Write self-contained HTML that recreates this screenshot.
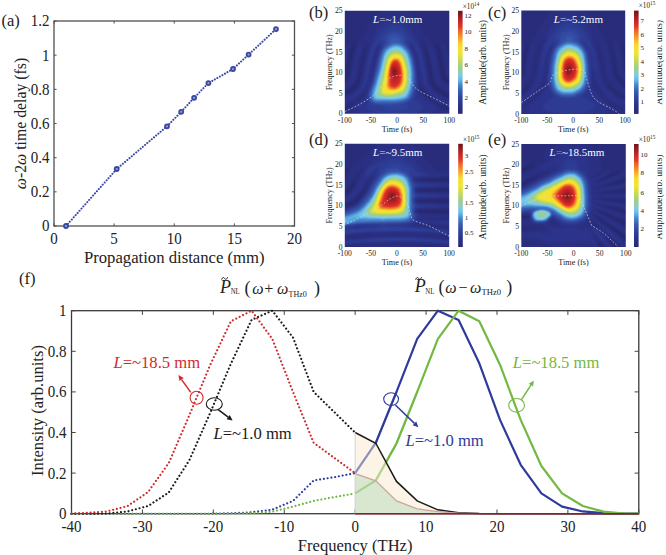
<!DOCTYPE html><html><head><meta charset="utf-8"><title>Figure</title><style>html,body{margin:0;padding:0;background:#fff;overflow:hidden;}svg{display:block;}text{font-family:"Liberation Serif", serif;}</style></head><body>
<svg width="666" height="555" viewBox="0 0 666 555">
<defs>
<linearGradient id="jetv" x1="0" y1="0" x2="0" y2="1"><stop offset="0.0000" stop-color="rgb(106,22,26)"/><stop offset="0.0312" stop-color="rgb(135,26,30)"/><stop offset="0.0625" stop-color="rgb(165,31,33)"/><stop offset="0.0938" stop-color="rgb(193,37,38)"/><stop offset="0.1250" stop-color="rgb(214,44,40)"/><stop offset="0.1562" stop-color="rgb(226,57,40)"/><stop offset="0.1875" stop-color="rgb(237,93,40)"/><stop offset="0.2188" stop-color="rgb(241,120,41)"/><stop offset="0.2500" stop-color="rgb(245,147,42)"/><stop offset="0.2812" stop-color="rgb(247,176,42)"/><stop offset="0.3125" stop-color="rgb(248,205,42)"/><stop offset="0.3438" stop-color="rgb(247,223,43)"/><stop offset="0.3750" stop-color="rgb(245,225,45)"/><stop offset="0.4062" stop-color="rgb(242,228,48)"/><stop offset="0.4375" stop-color="rgb(224,225,65)"/><stop offset="0.4688" stop-color="rgb(205,220,83)"/><stop offset="0.5000" stop-color="rgb(186,214,102)"/><stop offset="0.5312" stop-color="rgb(170,209,124)"/><stop offset="0.5625" stop-color="rgb(156,205,146)"/><stop offset="0.5938" stop-color="rgb(145,204,183)"/><stop offset="0.6250" stop-color="rgb(130,203,219)"/><stop offset="0.6562" stop-color="rgb(109,194,237)"/><stop offset="0.6875" stop-color="rgb(90,170,225)"/><stop offset="0.7188" stop-color="rgb(75,135,205)"/><stop offset="0.7500" stop-color="rgb(66,113,190)"/><stop offset="0.7812" stop-color="rgb(58,92,176)"/><stop offset="0.8125" stop-color="rgb(53,80,167)"/><stop offset="0.8438" stop-color="rgb(48,68,158)"/><stop offset="0.8750" stop-color="rgb(46,60,149)"/><stop offset="0.9062" stop-color="rgb(44,53,140)"/><stop offset="0.9375" stop-color="rgb(43,48,132)"/><stop offset="0.9688" stop-color="rgb(41,45,123)"/><stop offset="1.0000" stop-color="rgb(38,40,112)"/></linearGradient>
<filter id="cm" x="-5%" y="-5%" width="110%" height="110%" color-interpolation-filters="sRGB"><feGaussianBlur stdDeviation="0.9"/><feComponentTransfer><feFuncR type="table" tableValues="0.149 0.155 0.161 0.165 0.167 0.168 0.172 0.175 0.179 0.182 0.188 0.198 0.207 0.217 0.227 0.242 0.259 0.275 0.293 0.323 0.354 0.389 0.427 0.467 0.509 0.550 0.568 0.587 0.610 0.638 0.667 0.696 0.729 0.766 0.803 0.840 0.879 0.919 0.950 0.955 0.959 0.964 0.969 0.973 0.973 0.973 0.970 0.965 0.960 0.954 0.947 0.940 0.930 0.908 0.887 0.864 0.839 0.813 0.758 0.703 0.647 0.588 0.530 0.473 0.416"/><feFuncG type="table" tableValues="0.157 0.166 0.175 0.183 0.189 0.195 0.208 0.222 0.236 0.250 0.268 0.291 0.313 0.336 0.359 0.400 0.443 0.486 0.531 0.598 0.666 0.720 0.762 0.793 0.797 0.800 0.800 0.800 0.804 0.812 0.820 0.828 0.839 0.851 0.864 0.876 0.883 0.889 0.893 0.888 0.884 0.879 0.875 0.864 0.805 0.747 0.690 0.634 0.577 0.523 0.471 0.420 0.365 0.295 0.224 0.187 0.172 0.156 0.144 0.132 0.121 0.112 0.103 0.094 0.086"/><feFuncB type="table" tableValues="0.439 0.461 0.482 0.501 0.516 0.531 0.549 0.566 0.584 0.601 0.619 0.636 0.654 0.671 0.689 0.717 0.745 0.774 0.803 0.843 0.883 0.911 0.929 0.924 0.861 0.797 0.717 0.637 0.575 0.530 0.485 0.440 0.400 0.363 0.326 0.290 0.253 0.216 0.187 0.183 0.178 0.173 0.169 0.165 0.165 0.165 0.165 0.165 0.165 0.164 0.161 0.159 0.157 0.157 0.157 0.157 0.157 0.156 0.147 0.138 0.130 0.124 0.118 0.110 0.102"/></feComponentTransfer></filter>
<clipPath id="clipb"><rect x="344.8" y="10.8" width="104.50" height="103.00"/></clipPath>
<clipPath id="clipc"><rect x="521.3" y="10.6" width="103.90" height="103.30"/></clipPath>
<clipPath id="clipd"><rect x="344.8" y="143.8" width="104.40" height="103.20"/></clipPath>
<clipPath id="clipe"><rect x="521.3" y="144.0" width="104.50" height="103.00"/></clipPath>
</defs>
<rect width="666" height="555" fill="#fff"/>
<g fill="#222">
<rect x="54.0" y="21.0" width="240.5" height="205.0" fill="none" stroke="#505050" stroke-width="1.3"/>
<line x1="54.00" y1="226.0" x2="54.00" y2="223.4" stroke="#505050" stroke-width="1"/>
<line x1="54.00" y1="21.0" x2="54.00" y2="23.6" stroke="#505050" stroke-width="1"/>
<text transform="translate(54.00,244.40) scale(1,1.05)" text-anchor="middle" font-size="15">0</text>
<line x1="114.12" y1="226.0" x2="114.12" y2="223.4" stroke="#505050" stroke-width="1"/>
<line x1="114.12" y1="21.0" x2="114.12" y2="23.6" stroke="#505050" stroke-width="1"/>
<text transform="translate(114.12,244.40) scale(1,1.05)" text-anchor="middle" font-size="15">5</text>
<line x1="174.25" y1="226.0" x2="174.25" y2="223.4" stroke="#505050" stroke-width="1"/>
<line x1="174.25" y1="21.0" x2="174.25" y2="23.6" stroke="#505050" stroke-width="1"/>
<text transform="translate(174.25,244.40) scale(1,1.05)" text-anchor="middle" font-size="15">10</text>
<line x1="234.38" y1="226.0" x2="234.38" y2="223.4" stroke="#505050" stroke-width="1"/>
<line x1="234.38" y1="21.0" x2="234.38" y2="23.6" stroke="#505050" stroke-width="1"/>
<text transform="translate(234.38,244.40) scale(1,1.05)" text-anchor="middle" font-size="15">15</text>
<line x1="294.50" y1="226.0" x2="294.50" y2="223.4" stroke="#505050" stroke-width="1"/>
<line x1="294.50" y1="21.0" x2="294.50" y2="23.6" stroke="#505050" stroke-width="1"/>
<text transform="translate(294.50,244.40) scale(1,1.05)" text-anchor="middle" font-size="15">20</text>
<line x1="54.0" y1="226.00" x2="56.6" y2="226.00" stroke="#505050" stroke-width="1"/>
<line x1="294.5" y1="226.00" x2="291.9" y2="226.00" stroke="#505050" stroke-width="1"/>
<text transform="translate(49.50,231.40) scale(1,1.05)" text-anchor="end" font-size="15">0</text>
<line x1="54.0" y1="191.83" x2="56.6" y2="191.83" stroke="#505050" stroke-width="1"/>
<line x1="294.5" y1="191.83" x2="291.9" y2="191.83" stroke="#505050" stroke-width="1"/>
<text transform="translate(49.50,197.23) scale(1,1.05)" text-anchor="end" font-size="15">0.2</text>
<line x1="54.0" y1="157.67" x2="56.6" y2="157.67" stroke="#505050" stroke-width="1"/>
<line x1="294.5" y1="157.67" x2="291.9" y2="157.67" stroke="#505050" stroke-width="1"/>
<text transform="translate(49.50,163.07) scale(1,1.05)" text-anchor="end" font-size="15">0.4</text>
<line x1="54.0" y1="123.50" x2="56.6" y2="123.50" stroke="#505050" stroke-width="1"/>
<line x1="294.5" y1="123.50" x2="291.9" y2="123.50" stroke="#505050" stroke-width="1"/>
<text transform="translate(49.50,128.90) scale(1,1.05)" text-anchor="end" font-size="15">0.6</text>
<line x1="54.0" y1="89.33" x2="56.6" y2="89.33" stroke="#505050" stroke-width="1"/>
<line x1="294.5" y1="89.33" x2="291.9" y2="89.33" stroke="#505050" stroke-width="1"/>
<text transform="translate(49.50,94.73) scale(1,1.05)" text-anchor="end" font-size="15">0.8</text>
<line x1="54.0" y1="55.17" x2="56.6" y2="55.17" stroke="#505050" stroke-width="1"/>
<line x1="294.5" y1="55.17" x2="291.9" y2="55.17" stroke="#505050" stroke-width="1"/>
<text transform="translate(49.50,60.57) scale(1,1.05)" text-anchor="end" font-size="15">1</text>
<line x1="54.0" y1="21.00" x2="56.6" y2="21.00" stroke="#505050" stroke-width="1"/>
<line x1="294.5" y1="21.00" x2="291.9" y2="21.00" stroke="#505050" stroke-width="1"/>
<text transform="translate(49.50,26.40) scale(1,1.05)" text-anchor="end" font-size="15">1.2</text>
<path d="M66,226 L116.7,169 L167,126.3 L181.2,111.8 L194.1,97.8 L208.4,83.1 L233,69 L248.6,54.6 L276,29.1" fill="none" stroke="#3a47a5" stroke-width="2.05" stroke-dasharray="0.01 2.9" stroke-linecap="round"/>
<circle cx="66" cy="226" r="2.0" fill="#9aa0d4" stroke="#3a47a5" stroke-width="1.8"/>
<circle cx="116.7" cy="169" r="2.0" fill="#9aa0d4" stroke="#3a47a5" stroke-width="1.8"/>
<circle cx="167" cy="126.3" r="2.0" fill="#9aa0d4" stroke="#3a47a5" stroke-width="1.8"/>
<circle cx="181.2" cy="111.8" r="2.0" fill="#9aa0d4" stroke="#3a47a5" stroke-width="1.8"/>
<circle cx="194.1" cy="97.8" r="2.0" fill="#9aa0d4" stroke="#3a47a5" stroke-width="1.8"/>
<circle cx="208.4" cy="83.1" r="2.0" fill="#9aa0d4" stroke="#3a47a5" stroke-width="1.8"/>
<circle cx="233" cy="69" r="2.0" fill="#9aa0d4" stroke="#3a47a5" stroke-width="1.8"/>
<circle cx="248.6" cy="54.6" r="2.0" fill="#9aa0d4" stroke="#3a47a5" stroke-width="1.8"/>
<circle cx="276" cy="29.1" r="2.0" fill="#9aa0d4" stroke="#3a47a5" stroke-width="1.8"/>
<text x="174.25" y="263" text-anchor="middle" font-size="16.7">Propagation distance (mm)</text>
<text transform="translate(25.6,123.5) rotate(-90)" text-anchor="middle" font-size="15.8"><tspan font-style="italic">ω</tspan>-2<tspan font-style="italic">ω</tspan> time delay (fs)</text>
<text x="1.5" y="25.5" font-size="16.5">(a)</text>
<rect x="71.5" y="310.7" width="567.30" height="203.00" fill="none" stroke="#3a3a3a" stroke-width="1.3"/>
<line x1="71.50" y1="513.7" x2="71.50" y2="509.50000000000006" stroke="#444" stroke-width="1"/>
<line x1="71.50" y1="310.7" x2="71.50" y2="314.9" stroke="#444" stroke-width="1"/>
<text transform="translate(71.50,532.30) scale(1,1.05)" text-anchor="middle" font-size="15">-40</text>
<line x1="142.41" y1="513.7" x2="142.41" y2="509.50000000000006" stroke="#444" stroke-width="1"/>
<line x1="142.41" y1="310.7" x2="142.41" y2="314.9" stroke="#444" stroke-width="1"/>
<text transform="translate(142.41,532.30) scale(1,1.05)" text-anchor="middle" font-size="15">-30</text>
<line x1="213.32" y1="513.7" x2="213.32" y2="509.50000000000006" stroke="#444" stroke-width="1"/>
<line x1="213.32" y1="310.7" x2="213.32" y2="314.9" stroke="#444" stroke-width="1"/>
<text transform="translate(213.32,532.30) scale(1,1.05)" text-anchor="middle" font-size="15">-20</text>
<line x1="284.24" y1="513.7" x2="284.24" y2="509.50000000000006" stroke="#444" stroke-width="1"/>
<line x1="284.24" y1="310.7" x2="284.24" y2="314.9" stroke="#444" stroke-width="1"/>
<text transform="translate(284.24,532.30) scale(1,1.05)" text-anchor="middle" font-size="15">-10</text>
<line x1="355.15" y1="513.7" x2="355.15" y2="509.50000000000006" stroke="#444" stroke-width="1"/>
<line x1="355.15" y1="310.7" x2="355.15" y2="314.9" stroke="#444" stroke-width="1"/>
<text transform="translate(355.15,532.30) scale(1,1.05)" text-anchor="middle" font-size="15">0</text>
<line x1="426.06" y1="513.7" x2="426.06" y2="509.50000000000006" stroke="#444" stroke-width="1"/>
<line x1="426.06" y1="310.7" x2="426.06" y2="314.9" stroke="#444" stroke-width="1"/>
<text transform="translate(426.06,532.30) scale(1,1.05)" text-anchor="middle" font-size="15">10</text>
<line x1="496.97" y1="513.7" x2="496.97" y2="509.50000000000006" stroke="#444" stroke-width="1"/>
<line x1="496.97" y1="310.7" x2="496.97" y2="314.9" stroke="#444" stroke-width="1"/>
<text transform="translate(496.97,532.30) scale(1,1.05)" text-anchor="middle" font-size="15">20</text>
<line x1="567.89" y1="513.7" x2="567.89" y2="509.50000000000006" stroke="#444" stroke-width="1"/>
<line x1="567.89" y1="310.7" x2="567.89" y2="314.9" stroke="#444" stroke-width="1"/>
<text transform="translate(567.89,532.30) scale(1,1.05)" text-anchor="middle" font-size="15">30</text>
<line x1="638.80" y1="513.7" x2="638.80" y2="509.50000000000006" stroke="#444" stroke-width="1"/>
<line x1="638.80" y1="310.7" x2="638.80" y2="314.9" stroke="#444" stroke-width="1"/>
<text transform="translate(638.80,532.30) scale(1,1.05)" text-anchor="middle" font-size="15">40</text>
<line x1="71.5" y1="513.70" x2="75.7" y2="513.70" stroke="#444" stroke-width="1"/>
<line x1="638.8" y1="513.70" x2="634.5999999999999" y2="513.70" stroke="#444" stroke-width="1"/>
<text transform="translate(66.50,519.10) scale(1,1.05)" text-anchor="end" font-size="15">0</text>
<line x1="71.5" y1="473.10" x2="75.7" y2="473.10" stroke="#444" stroke-width="1"/>
<line x1="638.8" y1="473.10" x2="634.5999999999999" y2="473.10" stroke="#444" stroke-width="1"/>
<text transform="translate(66.50,478.50) scale(1,1.05)" text-anchor="end" font-size="15">0.2</text>
<line x1="71.5" y1="432.50" x2="75.7" y2="432.50" stroke="#444" stroke-width="1"/>
<line x1="638.8" y1="432.50" x2="634.5999999999999" y2="432.50" stroke="#444" stroke-width="1"/>
<text transform="translate(66.50,437.90) scale(1,1.05)" text-anchor="end" font-size="15">0.4</text>
<line x1="71.5" y1="391.90" x2="75.7" y2="391.90" stroke="#444" stroke-width="1"/>
<line x1="638.8" y1="391.90" x2="634.5999999999999" y2="391.90" stroke="#444" stroke-width="1"/>
<text transform="translate(66.50,397.30) scale(1,1.05)" text-anchor="end" font-size="15">0.6</text>
<line x1="71.5" y1="351.30" x2="75.7" y2="351.30" stroke="#444" stroke-width="1"/>
<line x1="638.8" y1="351.30" x2="634.5999999999999" y2="351.30" stroke="#444" stroke-width="1"/>
<text transform="translate(66.50,356.70) scale(1,1.05)" text-anchor="end" font-size="15">0.8</text>
<line x1="71.5" y1="310.70" x2="75.7" y2="310.70" stroke="#444" stroke-width="1"/>
<line x1="638.8" y1="310.70" x2="634.5999999999999" y2="310.70" stroke="#444" stroke-width="1"/>
<text transform="translate(66.50,316.10) scale(1,1.05)" text-anchor="end" font-size="15">1</text>
<path d="M355.10,473.10 L375.80,442.85 L396.50,391.90 L417.20,338.92 L437.90,310.70 L458.60,320.04 L479.30,363.28 L500.00,419.91 L520.70,464.78 L541.40,493.40 L562.10,506.60 L582.80,511.47 L603.50,513.09 L624.20,513.70 L638.80,513.70" fill="none" stroke="#2e3a9c" stroke-width="2.2" stroke-linejoin="round"/>
<path d="M355.10,493.40 L375.80,480.41 L396.50,443.46 L417.20,391.90 L437.90,338.92 L458.60,310.70 L479.30,321.26 L500.00,364.70 L520.70,419.91 L541.40,466.00 L562.10,493.40 L582.80,505.99 L603.50,511.67 L624.20,513.70 L638.80,513.70" fill="none" stroke="#73b843" stroke-width="2.2" stroke-linejoin="round"/>
<path d="M355.10,432.50 L375.80,443.26 L396.50,481.42 L417.20,500.91 L437.90,509.84 L458.60,512.69 L479.30,513.50 L500.00,513.70 L520.70,513.70 L541.40,513.70 L562.10,513.70 L582.80,513.70 L603.50,513.70 L624.20,513.70 L638.80,513.70 L638.8,513.7 L355.1,513.7 Z" fill="#fcf2e2" fill-opacity="0.85" stroke="none"/>
<path d="M355.10,473.71 L375.80,480.81 L396.50,500.91 L417.20,508.83 L437.90,511.67 L458.60,513.09 L479.30,513.70 L500.00,513.70 L520.70,513.70 L541.40,513.70 L562.10,513.70 L582.80,513.70 L603.50,513.70 L624.20,513.70 L638.80,513.70 L638.8,513.7 L355.1,513.7 Z" fill="#d2e4cc" fill-opacity="0.85" stroke="none"/>
<path d="M355.10,473.10 L375.80,442.85 L396.50,391.90" fill="none" stroke="#2e3a9c" stroke-width="2.2" stroke-opacity="0.45"/>
<path d="M355.10,493.40 L375.80,480.41 L396.50,443.46 L417.20,391.90" fill="none" stroke="#73b843" stroke-width="2.2" stroke-opacity="0.45"/>
<path d="M355.10,432.50 L375.80,443.26 L396.50,481.42 L417.20,500.91 L437.90,509.84 L458.60,512.69 L479.30,513.50 L500.00,513.70 L520.70,513.70 L541.40,513.70 L562.10,513.70 L582.80,513.70 L603.50,513.70 L624.20,513.70 L638.80,513.70" fill="none" stroke="#1a1a1a" stroke-width="1.5"/>
<path d="M355.10,473.71 L375.80,480.81 L396.50,500.91 L417.20,508.83 L437.90,511.67 L458.60,513.09 L479.30,513.70 L500.00,513.70 L520.70,513.70 L541.40,513.70 L562.10,513.70 L582.80,513.70 L603.50,513.70 L624.20,513.70 L638.80,513.70" fill="none" stroke="#cfa49e" stroke-width="1.3"/>
<line x1="355.1" y1="432.50" x2="355.1" y2="513.7" stroke="#ccc" stroke-width="0.8"/>
<line x1="355.1" y1="513.7" x2="638.8" y2="513.7" stroke="#8a2030" stroke-width="1.4"/>
<path d="M71.50,513.70 L86.00,513.70 L106.70,513.70 L127.40,513.70 L148.10,513.70 L168.80,513.70 L189.50,513.70 L210.20,513.70 L230.90,513.29 L251.60,512.28 L272.30,509.64 L293.00,500.91 L313.70,480.41 L334.40,477.16 L355.10,473.10" fill="none" stroke="#2e3a9c" stroke-dasharray="0.01 3.8" stroke-width="2.15" stroke-linecap="round"/>
<path d="M71.50,513.70 L86.00,513.70 L106.70,513.70 L127.40,513.70 L148.10,513.70 L168.80,513.70 L189.50,513.70 L210.20,513.70 L230.90,513.70 L251.60,513.29 L272.30,511.67 L293.00,506.60 L313.70,500.91 L334.40,497.05 L355.10,493.40" fill="none" stroke="#73b843" stroke-dasharray="0.01 3.8" stroke-width="2.15" stroke-linecap="round"/>
<path d="M71.50,513.70 L86.00,513.70 L106.70,513.50 L127.40,511.47 L148.10,505.99 L168.80,492.39 L189.50,459.91 L210.20,412.81 L230.90,363.68 L251.60,319.84 L272.30,310.70 L293.00,337.50 L313.70,391.90 L334.40,412.20 L355.10,432.50" fill="none" stroke="#1a1a1a" stroke-dasharray="0.01 3.8" stroke-width="2.15" stroke-linecap="round"/>
<path d="M71.50,513.46 L86.00,512.89 L106.70,511.47 L127.40,506.19 L148.10,491.98 L168.80,462.95 L189.50,414.84 L210.20,364.90 L230.90,321.26 L251.60,310.70 L272.30,338.92 L293.00,391.90 L313.70,442.85 L334.40,457.88 L355.10,473.10" fill="none" stroke="#d12a2c" stroke-dasharray="0.01 3.8" stroke-width="2.15" stroke-linecap="round"/>
<ellipse cx="196.6" cy="397.8" rx="6.5" ry="6.5" fill="none" stroke="#d12a2c" stroke-width="1.1"/>
<line x1="190.8" y1="392.4" x2="181.60" y2="379.57" stroke="#d12a2c" stroke-width="1.5"/><path d="M178.4,375.1 L183.72,378.06 L179.49,381.08 Z" fill="#d12a2c"/>
<ellipse cx="214.3" cy="404" rx="8" ry="6.2" fill="none" stroke="#1a1a1a" stroke-width="1.1"/>
<line x1="218.2" y1="409.7" x2="228.20" y2="417.20" stroke="#1a1a1a" stroke-width="1.5"/><path d="M232.6,420.5 L226.64,419.28 L229.76,415.12 Z" fill="#1a1a1a"/>
<ellipse cx="391.1" cy="399.1" rx="7.4" ry="6.4" fill="none" stroke="#2e3a9c" stroke-width="1.1"/>
<line x1="395.4" y1="405" x2="414.44" y2="423.38" stroke="#2e3a9c" stroke-width="1.5"/><path d="M418.4,427.2 L412.64,425.25 L416.25,421.51 Z" fill="#2e3a9c"/>
<ellipse cx="516.6" cy="405.3" rx="7.9" ry="6.8" fill="none" stroke="#73b843" stroke-width="1.1"/>
<line x1="521.5" y1="399.7" x2="530.92" y2="385.12" stroke="#73b843" stroke-width="1.5"/><path d="M533.9,380.5 L533.10,386.53 L528.73,383.71 Z" fill="#73b843"/>
<text x="113.5" y="368" font-size="16.6" fill="#d12a2c"><tspan font-style="italic">L</tspan>=~18.5 mm</text>
<text x="213.5" y="438.8" font-size="16.6" fill="#1a1a1a"><tspan font-style="italic">L</tspan>=~1.0 mm</text>
<text x="405.5" y="446" font-size="16.6" fill="#2e3a9c"><tspan font-style="italic">L</tspan>=~1.0 mm</text>
<text x="512.8" y="368.2" font-size="16.6" fill="#73b843"><tspan font-style="italic">L</tspan>=~18.5 mm</text>
<text x="220" y="293.1" font-size="18" font-style="italic">P</text>
<path d="M221.60,279.60 C222.80,276.60 224.00,277.32 224.60,278.40 C225.20,279.48 226.40,280.20 227.60,277.20" fill="none" stroke="#222" stroke-width="1"/>
<text x="230.7" y="294.3" font-size="7.6" textLength="9.1" lengthAdjust="spacingAndGlyphs">NL</text>
<text x="244.5" y="294.4" font-size="18">(</text>
<text x="252.2" y="293.5" font-size="16" font-style="italic">ω</text>
<text x="264.3" y="293.5" font-size="16">+</text>
<text x="276.9" y="293.5" font-size="16" font-style="italic">ω</text>
<text x="288.5" y="296.8" font-size="8">THz0</text>
<text x="314" y="294.4" font-size="18">)</text>
<text x="414.8" y="292.1" font-size="18" font-style="italic">P</text>
<path d="M415.60,279.60 C416.80,276.60 418.00,277.32 418.60,278.40 C419.20,279.48 420.40,280.20 421.60,277.20" fill="none" stroke="#222" stroke-width="1"/>
<text x="425.3" y="293.5" font-size="7.6" textLength="9.1" lengthAdjust="spacingAndGlyphs">NL</text>
<text x="438.4" y="292.8" font-size="18">(</text>
<text x="445.2" y="292.5" font-size="16" font-style="italic">ω</text>
<text x="458.6" y="292.5" font-size="16">−</text>
<text x="469.9" y="292.5" font-size="16" font-style="italic">ω</text>
<text x="481.5" y="295.1" font-size="8.6">THz0</text>
<text x="506.2" y="292.8" font-size="18">)</text>
<text x="355.15" y="551.4" text-anchor="middle" font-size="16.6">Frequency (THz)</text>
<text transform="translate(43.2,410.5) rotate(-90)" text-anchor="middle" font-size="16.6">Intensity (arb.units)</text>
<text x="19" y="283.5" font-size="16.5">(f)</text>
<g clip-path="url(#clipb)"><g filter="url(#cm)"><rect x="339.8" y="5.800000000000001" width="114.5" height="113.0" fill="rgb(0,0,0)"/>
<path fill-rule="evenodd" fill="rgb(8,8,8)" d="M452.3 116.8 341.8 116.8 341.8 110.0 349.3 106.8 352.3 104.3 341.8 107.4 341.8 97.7 344.3 96.7 354.3 89.8 358.3 84.3 360.3 78.8 363.6 59.3 366.3 48.8 365.8 47.8 365.3 48.3 363.3 53.8 358.1 77.8 355.5 83.3 352.3 87.0 341.8 93.6 341.8 83.7 346.5 80.3 348.8 75.6 352.2 57.3 355.0 45.8 354.8 44.3 354.3 43.9 353.3 44.3 350.8 48.8 348.9 55.8 345.1 74.8 343.8 77.3 341.8 78.5 341.8 49.3 342.6 44.8 341.8 42.7 341.8 7.8 452.3 7.8 452.3 46.4 449.8 42.7 448.3 42.7 447.8 44.3 452.3 66.7 452.3 81.4 445.5 76.8 440.2 49.8 438.7 45.8 437.3 43.8 435.8 43.5 435.3 44.8 440.1 67.8 441.7 78.3 443.3 80.6 445.4 82.3 452.3 86.6 452.3 94.9 447.3 93.3 437.3 86.9 433.5 82.3 432.1 77.3 431.3 70.8 427.8 54.2 425.3 47.3 424.3 46.4 423.8 46.6 423.6 47.8 427.2 62.8 429.3 77.6 430.8 83.8 434.6 89.3 438.5 92.3 445.3 96.7 452.3 99.2 452.3 108.3 440.8 105.6 436.7 103.8 440.3 106.8 445.6 109.3 452.3 111.4 452.3 116.8ZM426.1 95.8 425.7 94.3 420.3 85.8 420.3 88.7 423.8 93.7 426.1 95.8Z"/>
<path fill-rule="evenodd" fill="rgb(15,15,15)" d="M445.8 116.8 343.8 116.8 341.8 115.8 341.8 111.4 350.3 107.5 361.9 99.3 364.5 96.8 366.3 92.8 366.4 90.8 365.8 90.4 364.3 91.2 360.0 96.3 353.3 101.0 348.3 104.1 341.8 106.1 341.8 99.1 344.9 97.8 355.8 90.3 359.4 85.3 361.8 79.2 365.3 59.3 369.2 44.3 369.1 42.3 367.8 41.4 365.3 43.0 363.2 47.8 360.2 57.8 356.5 77.3 354.2 82.3 351.3 85.9 341.8 91.9 341.8 85.7 347.3 81.7 348.8 79.8 350.4 75.8 354.0 56.3 358.3 43.0 360.3 39.7 363.8 36.3 368.0 27.3 372.4 20.3 376.7 15.3 381.3 11.7 387.3 9.0 393.8 8.0 400.3 8.9 406.3 11.5 411.3 15.3 416.1 20.8 420.5 27.8 424.9 36.8 429.3 39.6 431.3 41.7 433.4 46.3 435.9 54.8 440.4 79.3 442.3 81.8 444.8 83.8 452.3 88.3 452.3 93.4 447.8 91.9 438.3 85.8 435.1 81.8 433.7 76.8 432.9 70.3 430.1 56.3 427.8 48.2 425.3 42.0 423.8 40.5 422.3 40.2 420.9 41.3 420.7 43.3 424.6 57.8 429.2 83.8 433.7 90.3 437.7 93.3 444.8 97.9 452.3 100.5 452.3 107.1 441.3 104.1 429.7 96.3 422.9 87.3 420.8 80.3 419.7 78.8 419.3 76.3 418.6 81.3 419.3 88.8 422.8 94.3 427.7 99.3 440.3 108.1 451.8 113.3 445.8 116.8ZM341.8 76.4 341.8 57.9 342.3 54.8 344.1 48.3 345.8 44.4 347.3 42.5 348.8 42.0 349.7 43.3 349.5 46.3 347.1 55.3 343.3 74.3 341.8 76.4ZM452.3 79.2 447.1 75.8 445.9 67.3 441.3 46.3 441.1 43.8 441.8 42.5 442.8 42.5 444.3 43.9 446.7 49.3 450.3 66.3 451.2 73.3 452.3 74.3 452.3 79.2ZM376.8 52.8 377.8 50.7 376.6 52.3 376.8 52.8ZM373.4 67.3 375.1 58.8 376.4 55.3 375.8 54.4 373.5 60.8 372.3 66.8 372.8 67.7 373.4 67.3Z"/>
<path fill-rule="evenodd" fill="rgb(23,23,23)" d="M421.8 116.8 367.4 116.8 358.4 113.3 355.6 111.3 353.9 109.3 353.4 107.3 357.8 103.3 364.8 98.2 367.4 92.3 372.3 77.5 376.8 57.8 380.3 47.8 380.3 46.5 379.8 46.2 378.3 46.8 376.8 48.3 373.3 56.8 368.9 75.8 369.1 78.8 368.4 81.8 365.3 87.8 359.2 95.3 347.8 102.9 341.8 104.8 341.8 100.4 345.8 98.7 356.3 91.5 360.5 85.8 363.0 79.3 366.6 58.8 374.2 33.8 377.2 28.3 380.8 23.6 384.8 20.2 389.3 18.1 394.8 17.4 400.3 18.6 405.8 22.1 410.5 27.3 414.5 33.8 421.2 49.8 423.5 58.3 426.0 71.3 426.6 77.8 428.4 84.8 432.6 90.8 436.8 94.1 444.3 99.0 452.3 101.9 452.3 105.9 441.8 102.9 430.5 95.3 426.8 90.9 424.0 86.8 423.1 84.3 421.5 78.3 420.8 71.9 419.4 67.8 418.5 66.8 418.7 64.3 417.6 61.3 417.6 58.8 415.1 50.3 412.8 46.5 411.3 45.4 410.2 45.3 409.8 46.0 413.0 51.8 415.1 57.3 416.9 66.3 416.7 68.8 418.8 92.3 426.8 100.1 436.1 107.3 435.3 109.8 432.7 112.3 427.9 114.8 421.8 116.8ZM343.8 87.9 343.0 87.8 348.4 83.3 350.5 80.3 352.0 76.3 355.3 58.1 356.8 52.5 358.8 47.1 360.8 45.2 361.4 46.3 360.9 49.8 358.5 57.8 354.9 76.8 352.4 81.8 350.2 84.3 343.8 87.9ZM444.8 86.9 439.8 84.4 436.6 80.8 435.5 76.8 431.7 55.8 429.9 49.3 429.7 46.8 430.3 46.1 431.9 47.8 434.3 55.4 438.6 79.8 440.8 83.2 444.8 86.9Z"/>
<path fill-rule="evenodd" fill="rgb(31,31,31)" d="M399.8 115.8 388.3 115.7 377.8 114.1 370.1 111.3 368.1 109.8 366.8 107.8 366.8 105.8 368.4 103.3 366.5 99.8 366.4 96.3 372.1 81.3 377.4 57.8 379.5 51.3 381.6 46.8 381.9 44.3 381.3 43.5 379.3 43.6 377.8 44.7 375.4 47.8 373.9 51.3 370.8 60.3 367.3 78.3 363.3 87.3 357.9 93.8 354.7 95.8 353.5 95.8 358.6 91.8 362.2 86.3 364.5 79.3 367.8 59.6 372.0 45.8 377.6 37.8 380.5 32.3 383.3 28.8 388.3 25.2 393.3 23.8 396.3 24.0 399.3 24.8 404.8 28.4 408.3 32.3 412.3 39.0 418.4 46.3 422.0 58.3 424.5 71.3 426.1 83.8 427.1 86.8 426.8 87.2 425.3 85.0 423.1 78.3 422.4 72.3 420.8 66.3 419.6 58.8 417.1 51.3 415.4 47.3 412.8 43.3 411.3 42.4 408.8 42.6 408.0 43.3 408.3 44.8 411.1 49.8 414.0 57.8 416.6 72.8 417.5 88.3 416.9 91.3 414.1 98.8 421.2 103.8 422.5 105.8 422.7 107.3 422.1 108.8 420.7 110.3 415.9 112.8 408.3 114.8 399.8 115.8ZM352.8 96.8 352.3 97.2 352.1 96.8 353.3 96.0 352.8 96.8ZM351.3 98.3 350.3 98.7 349.9 98.3 351.8 97.0 352.2 97.3 351.3 98.3ZM349.3 99.3 348.4 99.3 349.8 98.4 350.1 98.8 349.3 99.3ZM348.3 99.9 347.8 100.2 348.3 99.5 348.3 99.9ZM347.3 100.5 347.7 100.3 347.3 100.5ZM346.8 101.0 346.4 100.8 346.8 101.0Z"/>
<path fill-rule="evenodd" fill="rgb(38,38,38)" d="M400.3 110.8 391.8 111.1 384.7 109.8 381.4 107.8 381.0 105.8 375.8 105.4 371.3 103.9 368.7 101.3 367.6 98.3 368.0 93.8 372.7 81.3 378.0 57.8 380.1 51.3 382.9 46.3 383.8 43.3 383.8 41.8 381.6 39.8 381.8 37.8 383.8 34.3 386.3 31.6 389.8 29.5 393.3 28.7 397.3 29.0 400.8 30.5 404.3 33.3 406.7 36.8 407.1 38.8 406.1 40.8 406.2 43.3 410.5 49.8 411.8 52.8 414.0 60.3 416.0 72.8 416.7 84.8 415.8 90.3 414.0 95.8 410.8 101.1 406.0 103.8 408.1 105.8 407.8 107.9 404.8 109.7 400.3 110.8Z"/>
<path fill-rule="evenodd" fill="rgb(46,46,46)" d="M394.8 104.4 376.8 104.4 373.3 103.7 369.8 100.9 368.7 97.8 368.8 93.8 373.2 81.8 378.5 58.3 381.8 49.2 385.6 44.8 386.3 37.3 387.7 35.3 389.7 33.8 394.3 32.6 398.8 33.6 402.3 36.3 404.1 43.3 407.8 46.8 411.2 52.8 413.0 58.3 414.5 65.8 415.5 72.8 415.9 83.3 414.8 89.8 413.2 94.8 409.8 100.5 403.8 103.2 394.8 104.4Z"/>
<path fill-rule="evenodd" fill="rgb(54,54,54)" d="M394.8 103.4 375.8 103.3 372.0 101.8 370.2 99.8 369.7 97.8 370.4 91.3 373.8 81.8 377.7 66.8 379.3 58.3 381.5 51.8 383.1 48.8 385.0 46.8 389.6 43.8 389.3 40.8 390.5 38.8 392.3 37.2 394.8 36.7 398.3 38.2 399.8 40.3 399.9 42.3 405.1 45.3 407.5 47.8 410.1 51.8 412.4 58.3 413.9 65.8 414.8 72.8 414.9 80.8 413.8 89.8 412.1 94.8 409.3 99.6 406.8 101.1 403.3 102.3 394.8 103.4Z"/>
<path fill-rule="evenodd" fill="rgb(61,61,61)" d="M394.8 102.4 376.8 102.4 373.8 101.8 371.0 99.3 370.7 94.8 371.8 89.3 377.5 71.3 381.3 54.8 383.5 49.8 387.9 45.8 392.3 43.5 397.8 43.2 400.8 43.8 404.3 45.9 408.8 50.9 410.2 53.8 411.8 58.6 413.3 66.3 413.9 71.3 413.9 83.3 412.9 89.3 411.3 94.3 408.3 99.2 402.8 101.4 394.8 102.4Z"/>
<path fill-rule="evenodd" fill="rgb(69,69,69)" d="M394.8 101.4 376.8 101.5 374.3 100.9 371.8 98.8 371.6 94.8 372.7 89.8 375.6 81.8 375.7 80.3 378.6 71.3 382.2 55.3 384.3 50.3 388.8 46.3 392.8 44.3 397.8 44.1 400.8 44.8 403.8 46.7 407.9 51.3 409.3 53.9 410.9 58.8 412.4 66.3 413.0 71.3 413.0 83.3 411.9 89.3 410.4 93.8 407.8 98.4 402.8 100.4 394.8 101.4Z"/>
<path fill-rule="evenodd" fill="rgb(77,77,77)" d="M394.8 100.3 376.3 100.3 374.3 99.8 372.8 98.3 372.7 94.8 373.8 89.8 376.6 82.3 376.8 80.3 379.6 71.8 383.3 55.3 385.3 50.8 389.3 47.3 393.3 45.3 397.8 45.2 400.3 45.8 402.8 47.3 407.3 52.3 408.3 54.3 409.8 58.8 411.4 66.8 411.5 70.3 411.9 71.3 411.9 83.3 410.8 89.3 409.3 93.8 406.8 97.8 402.3 99.4 394.8 100.3Z"/>
<path fill-rule="evenodd" fill="rgb(84,84,84)" d="M394.3 99.5 376.8 99.4 376.3 98.9 374.8 98.8 373.8 97.8 373.7 94.8 374.2 94.3 374.7 90.3 375.6 88.8 375.7 87.3 377.6 82.8 377.6 80.8 378.6 79.3 378.6 77.3 379.6 75.8 379.6 73.8 380.6 72.3 380.6 70.3 381.6 68.3 382.6 61.3 384.1 57.8 384.1 55.8 385.1 54.3 385.1 53.3 386.2 51.3 389.8 48.2 393.8 46.2 397.8 46.2 398.3 46.7 399.8 46.7 402.3 48.2 406.5 52.8 407.5 54.8 407.5 56.3 409.0 59.3 410.0 66.3 410.5 66.8 410.5 70.8 411.0 71.3 411.0 83.3 410.5 83.8 410.5 86.3 409.5 90.3 408.4 93.3 406.3 96.9 403.8 97.4 402.3 98.4 398.8 98.5 398.3 98.9 394.8 99.0 394.3 99.5Z"/>
<path fill-rule="evenodd" fill="rgb(92,92,92)" d="M391.3 98.8 377.8 98.3 375.3 97.4 374.9 95.8 375.6 90.8 381.2 72.3 383.7 59.8 385.9 53.8 386.8 52.3 390.3 49.2 394.3 47.3 396.8 47.2 399.3 47.7 402.0 49.3 405.3 52.8 406.8 55.3 408.3 59.8 409.9 67.3 410.4 71.8 410.4 82.8 408.8 89.8 406.5 94.8 405.3 96.1 401.8 97.4 391.3 98.8Z"/>
<path fill-rule="evenodd" fill="rgb(99,99,99)" d="M393.3 97.9 385.3 98.1 378.3 97.2 376.3 96.3 376.3 93.3 385.7 56.3 387.5 52.8 390.8 50.0 394.8 48.3 396.8 48.3 398.8 48.7 401.6 50.3 404.7 53.3 406.0 55.8 407.6 60.3 409.3 67.8 409.8 72.3 409.7 81.8 408.1 89.3 404.8 95.2 401.3 96.5 393.3 97.9Z"/>
<path fill-rule="evenodd" fill="rgb(107,107,107)" d="M390.8 97.3 384.8 97.3 378.3 95.9 377.6 95.3 377.6 91.3 386.2 56.8 388.3 53.3 391.3 50.9 396.3 49.4 400.8 50.9 404.0 53.8 405.2 55.8 406.9 60.3 408.6 67.8 409.1 72.3 409.0 81.8 407.4 89.3 404.3 94.2 401.3 95.5 390.8 97.3Z"/>
<path fill-rule="evenodd" fill="rgb(115,115,115)" d="M392.8 96.3 385.3 96.7 381.2 95.8 378.8 94.6 378.6 91.3 385.2 62.3 386.9 57.3 388.8 54.0 391.3 52.1 393.8 50.9 396.3 50.5 399.5 51.3 402.8 53.8 405.4 58.3 408.2 69.8 408.4 81.3 406.8 88.6 403.8 93.3 400.8 94.6 392.8 96.3Z"/>
<path fill-rule="evenodd" fill="rgb(122,122,122)" d="M390.8 95.8 385.3 95.9 380.4 94.3 379.8 93.3 379.8 89.3 383.7 73.8 385.9 62.3 387.7 57.3 389.3 54.8 392.3 52.6 395.3 51.6 397.8 51.8 402.3 54.4 404.9 58.8 407.6 69.8 407.7 81.3 406.2 88.3 403.3 92.4 400.8 93.6 390.8 95.8Z"/>
<path fill-rule="evenodd" fill="rgb(130,130,130)" d="M391.8 94.9 385.8 95.2 382.3 94.2 380.8 92.8 380.6 89.8 387.1 60.3 389.2 56.3 392.3 53.7 394.8 52.8 397.8 52.8 401.8 55.0 404.1 58.8 407.0 70.3 407.1 80.8 405.6 87.8 403.3 91.2 400.8 92.6 391.8 94.9Z"/>
<path fill-rule="evenodd" fill="rgb(138,138,138)" d="M390.3 94.3 385.8 94.5 382.8 93.5 381.8 92.3 381.5 89.8 387.8 60.4 389.7 56.8 392.8 54.5 394.8 53.8 397.8 53.8 401.4 55.8 403.3 58.8 404.5 62.3 406.4 70.3 406.5 80.8 405.0 87.3 402.8 90.5 400.3 91.8 390.3 94.3Z"/>
<path fill-rule="evenodd" fill="rgb(145,145,145)" d="M389.8 94.0 385.8 94.0 384.3 93.5 382.6 92.3 382.6 90.8 382.1 90.3 383.0 86.8 383.6 81.3 384.5 79.8 385.0 75.3 385.5 74.8 386.0 68.8 388.0 60.8 390.0 57.3 393.3 55.0 397.8 54.5 400.8 56.0 402.6 58.3 403.1 60.8 404.1 62.3 404.1 64.3 405.1 65.8 405.6 69.8 406.0 70.3 406.1 80.8 405.6 81.3 405.6 83.3 404.6 87.3 402.3 90.1 400.3 91.1 397.3 91.6 395.8 92.6 389.8 94.0Z"/>
<path fill-rule="evenodd" fill="rgb(153,153,153)" d="M389.3 93.5 384.8 92.7 383.5 91.8 383.2 90.3 383.6 84.3 384.9 79.8 386.4 68.8 388.4 60.8 390.6 57.3 393.8 55.5 397.3 55.0 400.3 56.5 402.0 58.3 403.7 62.3 403.8 64.3 404.7 65.8 405.7 70.8 405.7 80.3 405.2 82.8 404.0 87.3 401.8 89.6 395.8 92.2 389.3 93.5Z"/>
<path fill-rule="evenodd" fill="rgb(161,161,161)" d="M391.3 92.3 386.8 92.3 384.5 90.8 384.4 84.8 385.5 79.8 386.4 71.8 388.9 61.3 390.0 59.3 391.3 57.6 393.8 56.2 397.3 55.8 399.8 57.0 401.3 58.6 403.2 62.8 405.1 70.8 405.1 80.3 403.5 86.8 401.3 89.1 395.3 91.7 391.3 92.3Z"/>
<path fill-rule="evenodd" fill="rgb(168,168,168)" d="M393.3 91.4 388.8 91.6 385.8 90.5 385.1 84.8 387.3 69.8 389.6 61.3 391.8 58.1 394.2 56.8 396.8 56.5 399.3 57.5 400.6 58.8 402.6 62.8 404.5 71.3 404.6 78.8 404.1 82.3 402.6 86.8 399.8 89.2 396.3 90.8 393.3 91.4Z"/>
<path fill-rule="evenodd" fill="rgb(176,176,176)" d="M392.8 90.9 388.3 90.5 386.8 89.8 385.9 85.8 386.2 82.3 387.8 70.0 390.0 61.8 392.8 58.2 396.8 57.2 398.8 57.9 400.2 59.3 402.0 62.8 403.9 71.3 404.1 78.3 403.5 82.3 402.2 86.3 400.3 88.2 397.3 89.8 392.8 90.9Z"/>
<path fill-rule="evenodd" fill="rgb(184,184,184)" d="M395.8 89.9 392.8 90.2 387.8 89.1 386.7 85.3 388.2 70.3 390.6 61.8 393.0 58.8 396.3 57.9 398.8 58.8 401.4 62.8 403.1 69.8 403.6 77.8 403.1 81.8 401.7 85.8 399.8 87.8 395.8 89.9Z"/>
<path fill-rule="evenodd" fill="rgb(191,191,191)" d="M395.8 89.4 392.8 89.6 388.8 88.4 387.5 85.3 388.7 70.8 390.8 62.8 393.3 59.3 396.3 58.6 398.3 59.2 400.9 62.8 402.6 70.3 403.1 77.8 402.5 81.8 401.3 85.2 399.3 87.4 395.8 89.4Z"/>
<path fill-rule="evenodd" fill="rgb(199,199,199)" d="M395.8 88.9 391.3 88.6 389.3 87.5 388.3 85.3 388.7 75.3 389.7 67.8 391.8 61.8 393.8 59.7 396.3 59.4 397.8 59.6 400.5 63.3 402.5 73.8 402.5 77.8 400.9 84.8 398.8 86.9 395.8 88.9Z"/>
<path fill-rule="evenodd" fill="rgb(207,207,207)" d="M395.8 88.6 393.3 88.6 390.3 87.6 388.5 85.3 388.9 84.8 388.9 75.3 389.4 74.8 389.9 67.8 391.9 62.3 394.3 59.9 397.3 59.9 400.1 63.3 400.1 64.8 401.2 67.3 401.2 69.8 401.7 70.3 401.7 73.3 402.2 73.8 402.1 77.8 401.7 78.3 401.6 81.3 400.6 84.3 395.8 88.6Z"/>
<path fill-rule="evenodd" fill="rgb(214,214,214)" d="M395.8 88.3 393.3 88.3 390.3 87.3 388.8 85.3 389.2 84.8 389.1 75.3 389.6 74.8 390.1 67.8 392.1 62.3 394.3 60.1 397.3 60.2 399.9 63.3 400.4 66.8 400.9 67.3 400.9 69.8 401.4 70.3 401.4 73.3 401.9 73.8 401.9 77.8 401.4 78.3 401.4 81.3 400.3 84.3 395.8 88.3Z"/>
<path fill-rule="evenodd" fill="rgb(222,222,222)" d="M394.8 86.9 392.5 86.3 390.7 84.8 389.3 75.3 390.2 67.8 391.2 64.8 392.3 62.3 394.3 60.8 396.8 61.4 398.9 63.8 400.3 67.8 401.3 74.3 400.3 80.8 399.0 83.8 394.8 86.9Z"/>
<path fill-rule="evenodd" fill="rgb(230,230,230)" d="M394.3 84.4 392.8 83.7 391.3 79.0 390.3 70.3 391.0 66.8 392.3 64.4 393.8 63.4 395.8 63.2 397.3 64.6 399.1 68.3 400.1 74.8 399.8 76.8 397.8 81.6 397.0 82.8 394.3 84.4Z"/>
<path fill-rule="evenodd" fill="rgb(237,237,237)" d="M395.3 80.3 392.3 76.8 391.2 72.8 391.8 67.8 392.8 66.1 394.3 65.4 395.3 65.8 397.3 68.5 398.5 71.8 398.1 76.3 395.3 80.3Z"/>
<path fill-rule="evenodd" fill="rgb(245,245,245)" d="M394.3 76.3 392.8 75.2 392.1 71.8 392.8 68.4 394.3 67.3 395.8 68.8 396.9 72.3 395.9 75.3 394.3 76.3Z"/>
<path fill-rule="evenodd" fill="rgb(252,252,252)" d="M394.3 73.9 393.5 73.3 393.2 71.8 393.5 70.3 394.3 69.7 395.2 71.8 394.3 73.9Z"/></g></g>
<path d="M345.00,111.50 C345.37,111.33 344.72,111.72 347.20,110.50 C349.68,109.28 355.53,106.72 359.90,104.20 C364.27,101.68 370.35,97.80 373.40,95.40 C376.45,93.00 376.60,91.62 378.20,89.80 C379.80,87.98 381.37,86.23 383.00,84.50 C384.63,82.77 386.23,80.75 388.00,79.40 C389.77,78.05 391.53,77.08 393.60,76.40 C395.67,75.72 398.18,75.17 400.40,75.30 C402.62,75.43 405.13,76.05 406.90,77.20 C408.67,78.35 409.73,80.57 411.00,82.20 C412.27,83.83 412.93,85.47 414.50,87.00 C416.07,88.53 417.30,89.60 420.40,91.40 C423.50,93.20 428.85,95.67 433.10,97.80 C437.35,99.93 443.08,102.73 445.90,104.20 C448.72,105.67 449.32,106.20 450.00,106.60" fill="none" stroke="#d4dcec" stroke-width="0.75" stroke-dasharray="1.8 1.7" stroke-opacity="0.9"/>
<rect x="458.0" y="10.8" width="4.6" height="103.00" fill="url(#jetv)"/>
<text x="464.6" y="17.70" font-size="7.0">12</text>
<text x="464.6" y="33.90" font-size="7.0">10</text>
<text x="464.6" y="50.50" font-size="7.0">8</text>
<text x="464.6" y="66.90" font-size="7.0">6</text>
<text x="464.6" y="83.60" font-size="7.0">4</text>
<text x="464.6" y="99.70" font-size="7.0">2</text>
<text x="462.8" y="8.60" font-size="7.2">×10<tspan font-size="5.2" dy="-3">14</tspan></text>
<text x="342.50" y="116.40" text-anchor="end" font-size="7.6">0</text>
<text x="342.50" y="95.80" text-anchor="end" font-size="7.6">5</text>
<text x="342.50" y="75.20" text-anchor="end" font-size="7.6">10</text>
<text x="342.50" y="54.60" text-anchor="end" font-size="7.6">15</text>
<text x="342.50" y="34.00" text-anchor="end" font-size="7.6">20</text>
<text x="342.50" y="13.40" text-anchor="end" font-size="7.6">25</text>
<text x="344.80" y="123.10" text-anchor="middle" font-size="7.6">-100</text>
<text x="370.93" y="123.10" text-anchor="middle" font-size="7.6">-50</text>
<text x="397.05" y="123.10" text-anchor="middle" font-size="7.6">0</text>
<text x="423.18" y="123.10" text-anchor="middle" font-size="7.6">50</text>
<text x="449.30" y="123.10" text-anchor="middle" font-size="7.6">100</text>
<text x="397.05" y="132.20" text-anchor="middle" font-size="8.2">Time (fs)</text>
<text transform="translate(332.40,62.30) rotate(-90)" text-anchor="middle" font-size="8.1">Frequency (THz)</text>
<text x="373.10" y="22.80" font-size="11" fill="#fff"><tspan font-style="italic">L</tspan><tspan fill-opacity="0.8">=</tspan>~1.0mm</text>
<text x="309" y="17.5" font-size="16.5">(b)</text>
<g clip-path="url(#clipc)"><g filter="url(#cm)"><rect x="516.3" y="5.6" width="113.90000000000009" height="113.30000000000001" fill="rgb(0,0,0)"/>
<path fill-rule="evenodd" fill="rgb(8,8,8)" d="M627.8 116.6 518.3 116.6 518.3 96.2 527.8 88.1 530.9 83.1 530.8 82.6 527.0 86.6 518.3 94.0 518.3 81.6 520.6 79.1 522.4 75.6 525.5 56.6 528.2 45.6 528.0 44.6 527.3 44.5 525.8 47.1 520.1 75.1 518.3 77.5 518.3 7.6 627.8 7.6 627.8 63.5 626.2 53.6 624.3 45.8 622.3 42.6 621.3 42.7 621.1 44.1 626.1 71.6 627.8 73.4 627.8 83.5 625.8 83.2 624.3 82.1 619.4 77.6 617.1 74.6 611.9 47.6 610.3 44.7 609.7 44.6 609.5 45.6 612.0 56.1 615.1 75.6 617.1 79.1 622.1 84.6 624.3 86.4 627.8 87.2 627.8 96.2 621.8 95.3 618.8 94.2 607.1 83.6 609.8 88.0 617.8 95.3 621.5 97.1 627.8 98.8 627.8 109.1 624.8 108.6 623.2 109.1 627.8 110.6 627.8 116.6Z"/>
<path fill-rule="evenodd" fill="rgb(15,15,15)" d="M624.8 116.6 518.3 116.6 518.3 110.1 521.8 108.7 524.8 106.7 536.8 96.4 543.4 87.6 545.0 83.6 546.7 71.1 546.3 66.2 546.2 68.6 543.8 76.0 543.6 79.1 542.5 82.6 540.8 86.1 536.8 92.1 531.1 98.1 524.8 103.4 520.8 105.6 518.3 106.1 518.3 98.4 526.3 92.3 529.6 89.1 533.5 83.6 535.1 80.1 538.6 58.6 542.6 42.6 541.8 41.3 539.8 42.3 537.8 45.0 536.2 49.1 534.2 57.1 532.7 67.1 530.3 78.1 526.3 84.1 518.3 91.0 518.3 84.4 522.3 80.3 524.6 76.1 527.9 56.1 531.3 44.1 543.8 21.1 548.6 15.1 553.8 10.7 559.9 7.6 578.1 7.6 582.8 9.8 586.8 12.6 590.8 16.6 594.2 21.1 604.3 39.8 607.3 47.1 609.8 56.6 613.1 76.6 615.6 80.6 620.8 86.1 623.3 88.1 627.8 89.2 627.8 94.1 620.3 92.4 611.3 84.1 607.6 79.1 601.5 49.6 598.3 43.0 596.8 41.7 595.8 41.6 595.2 42.6 595.3 44.8 599.0 58.6 602.7 81.1 606.8 87.7 616.8 97.1 619.8 98.6 627.8 100.7 627.8 107.4 617.3 105.6 612.3 103.5 609.3 101.0 600.7 92.1 595.3 83.6 593.8 78.5 593.3 78.3 592.5 80.1 592.8 84.6 594.2 87.6 598.3 93.6 610.8 105.4 616.3 108.7 627.8 112.5 627.8 115.0 624.8 116.6ZM627.8 81.1 625.6 80.1 621.3 76.1 619.5 73.6 616.4 55.1 613.5 42.6 613.8 40.6 614.8 40.7 616.3 41.8 618.4 45.6 620.7 54.6 623.6 72.1 627.8 77.0 627.8 81.1ZM518.3 70.4 518.3 48.8 520.8 42.5 522.3 40.9 523.3 40.7 523.9 41.6 523.8 44.1 518.3 70.4ZM627.8 46.3 627.8 45.0 627.8 46.3Z"/>
<path fill-rule="evenodd" fill="rgb(23,23,23)" d="M597.3 116.6 540.4 116.6 532.3 113.4 529.5 111.6 527.6 109.6 526.9 107.6 529.3 104.8 540.7 94.6 544.6 90.1 546.0 87.6 546.7 76.6 549.2 58.1 550.5 52.6 553.3 45.7 552.3 45.8 550.3 47.6 547.3 53.1 545.5 59.6 544.2 68.6 542.2 75.6 541.9 79.1 539.3 85.4 535.4 91.1 530.1 96.6 523.8 102.0 519.8 104.2 518.3 104.5 518.3 100.2 524.3 95.9 530.7 90.1 535.0 84.1 536.5 80.6 540.3 58.1 542.9 48.1 545.8 40.1 546.6 34.1 547.9 31.1 551.0 26.1 554.8 21.7 558.8 18.5 563.3 16.3 569.8 15.4 575.8 16.7 581.3 20.0 586.6 25.6 589.6 30.1 591.5 34.6 591.7 39.6 595.7 51.1 597.4 58.1 600.1 76.1 601.8 82.6 605.5 88.6 615.8 98.2 619.3 100.0 627.8 102.4 627.8 105.7 617.8 104.0 613.3 102.1 609.8 99.1 602.1 91.1 597.8 84.8 595.1 77.1 594.9 74.1 593.8 70.3 593.3 69.2 592.3 68.8 591.5 70.1 591.3 73.1 591.7 86.6 592.4 88.6 599.8 97.6 611.0 108.1 609.6 110.6 607.2 112.6 602.8 114.8 597.3 116.6ZM610.8 78.9 609.8 77.9 608.9 75.1 608.5 71.6 606.5 64.6 605.6 56.6 602.7 46.1 602.8 44.8 603.8 45.4 605.2 47.6 607.3 55.3 610.0 70.6 610.8 78.9ZM527.3 77.9 526.9 77.6 527.3 72.6 530.3 55.6 532.3 48.2 533.3 46.1 534.3 45.4 534.4 47.1 531.9 56.6 530.5 66.6 528.5 73.1 527.9 77.1 527.3 77.9Z"/>
<path fill-rule="evenodd" fill="rgb(31,31,31)" d="M577.3 114.6 565.3 115.0 553.8 113.5 546.1 110.6 543.8 108.6 543.0 106.6 543.6 104.6 545.8 102.1 554.9 96.6 551.7 93.6 549.2 89.1 547.8 83.6 547.5 77.1 550.0 58.1 551.3 52.6 555.0 45.1 555.3 42.6 553.8 42.3 551.9 43.1 547.0 49.1 543.5 58.6 542.1 68.1 540.8 71.6 541.3 64.6 544.7 47.6 547.8 41.3 555.8 28.6 561.3 24.1 567.3 22.0 571.8 22.2 576.3 23.8 580.8 27.1 584.5 31.6 592.3 46.1 595.4 58.6 597.3 71.0 597.3 72.9 594.7 66.1 594.1 59.1 591.9 52.1 587.0 44.6 584.3 42.9 582.3 43.0 588.7 52.1 590.1 64.1 590.9 81.1 590.4 85.1 587.7 90.6 584.0 94.6 581.8 96.1 591.6 101.6 594.1 104.1 595.0 106.6 593.8 109.1 590.0 111.6 584.3 113.4 577.3 114.6Z"/>
<path fill-rule="evenodd" fill="rgb(38,38,38)" d="M574.3 98.1 562.3 98.3 556.8 96.2 553.0 93.1 550.6 89.1 548.6 79.6 549.4 66.6 551.3 55.1 554.5 47.1 557.2 43.6 557.6 41.1 557.6 40.1 555.3 38.1 555.5 36.6 557.8 32.7 560.4 30.1 563.8 28.1 567.8 27.0 572.3 27.4 576.3 29.2 579.7 32.1 582.4 36.1 583.0 38.1 580.3 40.3 580.3 41.6 580.6 42.6 584.6 47.6 587.1 52.6 589.3 64.6 590.1 77.1 589.9 81.6 589.0 85.1 586.4 90.1 582.8 93.9 574.3 98.1Z"/>
<path fill-rule="evenodd" fill="rgb(46,46,46)" d="M573.3 97.2 562.3 97.2 557.3 95.2 553.8 92.2 551.6 88.6 549.7 79.6 550.3 65.1 552.6 53.1 555.4 47.1 560.3 42.6 560.0 41.1 560.8 36.1 561.5 34.6 564.3 32.4 568.3 31.3 573.3 32.2 576.9 35.1 578.1 42.1 580.3 43.4 583.9 47.6 586.7 53.6 588.6 64.6 589.3 77.1 588.0 84.6 585.4 89.6 581.9 93.1 573.3 97.2Z"/>
<path fill-rule="evenodd" fill="rgb(54,54,54)" d="M573.3 96.2 562.3 96.2 557.8 94.3 554.8 91.9 552.7 88.6 550.7 79.6 551.2 65.1 552.8 55.6 554.5 50.6 556.1 47.6 558.3 45.4 562.3 42.5 566.0 41.1 565.4 39.6 565.8 38.1 566.8 37.0 568.8 36.4 570.8 36.8 572.2 38.1 572.6 39.6 572.1 41.1 576.3 42.3 579.8 44.1 583.5 48.1 586.3 54.1 588.0 64.6 588.4 77.1 587.1 84.1 584.5 89.1 581.6 92.1 573.3 96.2Z"/>
<path fill-rule="evenodd" fill="rgb(61,61,61)" d="M573.3 95.2 562.3 95.2 558.4 93.6 555.4 91.1 553.5 88.1 551.7 79.6 552.2 65.1 554.3 53.6 556.5 48.6 558.8 46.2 562.8 43.3 566.3 42.0 571.8 42.0 575.8 43.1 579.8 45.2 583.4 49.1 585.6 54.1 586.8 60.1 587.3 64.6 587.4 77.1 586.3 83.6 583.8 88.5 580.8 91.5 573.3 95.2Z"/>
<path fill-rule="evenodd" fill="rgb(69,69,69)" d="M573.3 94.2 562.8 94.3 559.3 93.1 556.2 90.6 554.3 87.6 552.7 79.6 553.1 65.6 555.3 53.7 557.3 49.1 559.3 47.0 563.3 44.1 566.3 43.0 571.8 43.0 575.7 44.1 579.3 46.0 582.8 49.6 584.9 54.1 585.9 59.6 586.5 64.6 586.5 77.1 585.3 83.5 583.3 87.6 580.3 90.7 573.3 94.2Z"/>
<path fill-rule="evenodd" fill="rgb(77,77,77)" d="M573.3 93.1 562.8 93.2 559.8 92.1 556.8 89.6 555.3 87.1 553.7 79.1 554.2 65.6 556.3 54.1 558.3 49.6 560.3 47.6 563.8 45.1 566.8 44.0 571.8 44.1 578.3 46.6 581.8 50.1 583.8 54.1 584.9 60.1 585.0 63.6 585.4 64.6 585.4 77.1 584.3 83.1 582.3 87.1 579.3 90.1 573.3 93.1Z"/>
<path fill-rule="evenodd" fill="rgb(84,84,84)" d="M572.8 92.3 562.8 92.2 560.3 91.2 557.6 89.1 556.1 86.6 555.6 83.1 555.1 82.6 555.0 79.6 554.6 79.1 555.0 65.6 555.5 65.1 556.1 59.1 556.5 58.6 557.1 54.6 559.8 49.4 564.3 46.0 566.8 45.0 571.3 45.0 577.8 47.5 581.0 50.6 583.0 54.6 583.6 59.6 584.1 60.1 584.1 64.1 584.6 64.6 584.6 77.1 584.1 77.6 583.5 82.6 581.5 86.6 578.8 89.3 572.8 92.3Z"/>
<path fill-rule="evenodd" fill="rgb(92,92,92)" d="M572.8 91.2 563.8 91.4 560.4 90.1 558.5 88.6 556.8 86.1 555.1 78.6 555.5 66.1 557.7 55.1 560.3 50.2 564.8 46.9 567.3 45.9 570.8 45.9 574.3 46.9 576.8 48.1 580.3 51.3 582.4 55.1 584.1 65.1 584.1 76.6 583.0 82.1 580.8 86.2 578.8 88.2 572.8 91.2Z"/>
<path fill-rule="evenodd" fill="rgb(99,99,99)" d="M571.8 90.6 563.8 90.5 559.3 88.2 557.5 85.6 555.7 78.1 556.1 66.1 558.4 55.1 561.2 50.6 565.3 47.7 567.8 46.8 570.3 46.8 575.8 48.6 579.8 52.1 581.7 55.6 583.7 65.6 583.5 76.6 582.4 82.1 580.0 86.1 578.3 87.6 571.8 90.6Z"/>
<path fill-rule="evenodd" fill="rgb(107,107,107)" d="M572.3 89.6 564.3 89.7 560.0 87.6 557.6 83.6 556.3 78.1 556.6 66.6 559.0 55.6 561.8 51.2 565.8 48.5 568.3 47.8 571.8 48.2 575.8 49.6 579.2 52.6 581.0 55.6 583.2 65.6 583.0 76.1 581.8 81.9 580.2 84.6 577.8 87.0 572.3 89.6Z"/>
<path fill-rule="evenodd" fill="rgb(115,115,115)" d="M572.3 88.8 564.8 88.9 560.8 87.1 558.3 83.6 556.9 78.1 557.1 66.6 558.3 60.1 559.7 55.6 561.8 52.5 564.3 50.3 568.3 48.8 571.5 49.1 575.3 50.3 578.3 52.8 579.8 54.8 581.1 58.1 582.7 65.6 582.5 76.1 581.3 81.6 578.3 85.6 572.3 88.8Z"/>
<path fill-rule="evenodd" fill="rgb(122,122,122)" d="M571.3 88.1 565.3 88.1 560.9 86.1 559.1 83.6 557.5 77.6 557.7 66.6 559.6 57.6 560.6 55.1 562.4 53.1 565.3 50.7 568.3 49.8 570.8 49.9 574.8 51.1 578.8 54.6 581.7 62.1 582.2 66.1 581.9 76.1 580.7 81.6 579.3 83.7 576.8 85.8 571.3 88.1Z"/>
<path fill-rule="evenodd" fill="rgb(130,130,130)" d="M571.8 87.2 565.3 87.2 561.6 85.6 559.6 83.1 558.2 78.6 557.8 71.6 558.3 66.1 560.2 57.6 561.3 55.3 562.8 53.9 565.3 51.7 567.8 50.8 572.8 51.3 574.8 52.0 577.0 53.6 578.6 55.6 579.9 58.6 581.1 62.1 581.8 66.1 581.8 72.6 580.3 81.1 579.0 83.1 576.3 85.2 571.8 87.2Z"/>
<path fill-rule="evenodd" fill="rgb(138,138,138)" d="M572.3 86.2 565.8 86.4 561.8 84.7 560.3 83.0 558.7 78.6 558.3 71.6 558.7 71.1 558.8 66.1 560.7 58.1 561.9 55.6 565.8 52.4 567.8 51.7 570.3 51.7 574.3 52.8 577.8 55.6 580.8 62.6 580.8 65.6 581.3 66.1 581.3 72.6 580.3 79.6 578.6 82.6 575.8 84.7 572.3 86.2Z"/>
<path fill-rule="evenodd" fill="rgb(145,145,145)" d="M571.8 85.9 565.8 85.9 563.3 84.4 562.3 84.4 560.5 82.6 559.1 78.6 558.6 71.6 559.1 71.1 559.1 66.1 561.0 58.1 562.3 55.8 564.3 54.8 566.3 52.8 567.8 52.3 570.3 52.3 574.3 53.3 577.6 56.1 580.5 62.6 580.5 65.6 581.0 66.1 581.0 72.6 580.6 73.1 580.0 79.6 578.3 82.3 571.8 85.9Z"/>
<path fill-rule="evenodd" fill="rgb(153,153,153)" d="M571.8 85.4 566.3 85.5 562.3 83.9 561.0 82.6 559.4 78.1 558.9 73.1 559.3 66.6 560.9 59.6 562.8 56.2 566.3 53.5 568.3 52.8 573.8 53.8 577.1 56.6 580.1 62.6 580.8 66.6 580.7 72.6 579.5 79.6 576.8 82.8 571.8 85.4Z"/>
<path fill-rule="evenodd" fill="rgb(161,161,161)" d="M571.3 84.9 566.3 85.0 562.4 83.1 561.5 82.1 559.9 78.1 559.5 73.1 560.4 63.6 561.9 58.6 564.3 55.8 566.8 54.0 568.8 53.5 573.8 54.5 576.6 57.1 579.6 63.1 580.2 66.6 580.2 72.1 579.0 79.1 576.3 82.3 571.3 84.9Z"/>
<path fill-rule="evenodd" fill="rgb(168,168,168)" d="M571.3 84.2 566.8 84.5 562.8 82.6 560.4 77.6 560.4 67.1 562.0 60.1 564.3 56.6 566.8 54.8 568.8 54.3 573.3 55.1 576.1 57.6 578.9 63.1 579.7 67.1 579.7 71.6 578.2 79.1 576.1 81.6 571.3 84.2Z"/>
<path fill-rule="evenodd" fill="rgb(176,176,176)" d="M570.8 83.7 566.8 83.9 563.3 82.2 561.0 77.6 561.0 67.1 562.3 60.6 564.8 57.0 567.3 55.3 568.8 55.0 573.3 55.9 575.7 58.1 578.1 62.6 579.1 67.1 579.1 71.6 577.8 78.6 575.7 81.1 570.8 83.7Z"/>
<path fill-rule="evenodd" fill="rgb(184,184,184)" d="M569.8 83.2 566.8 83.3 563.3 81.3 561.6 77.6 561.3 72.6 561.5 67.1 562.9 60.6 565.3 57.4 567.3 56.0 568.8 55.8 572.8 56.4 575.3 58.6 577.6 63.1 578.6 67.1 578.6 71.6 577.1 78.6 572.8 82.3 569.8 83.2Z"/>
<path fill-rule="evenodd" fill="rgb(191,191,191)" d="M569.3 82.8 566.8 82.7 563.3 80.4 562.0 77.1 561.9 72.6 562.1 67.1 563.3 61.1 565.9 57.6 568.8 56.5 572.8 57.2 575.3 59.6 577.0 63.1 578.1 67.6 577.9 72.6 576.4 78.6 572.8 81.6 569.3 82.8Z"/>
<path fill-rule="evenodd" fill="rgb(199,199,199)" d="M569.3 82.2 567.3 82.3 564.8 81.1 563.8 80.1 562.6 77.1 562.6 67.1 563.6 61.6 566.3 58.0 568.8 57.2 572.8 57.9 575.4 60.6 577.5 67.6 577.4 72.6 575.9 78.1 572.3 81.2 569.3 82.2Z"/>
<path fill-rule="evenodd" fill="rgb(207,207,207)" d="M568.8 82.0 567.3 82.0 565.3 81.0 563.4 78.6 562.9 77.1 562.9 67.1 563.4 66.6 563.4 63.6 564.4 60.6 567.8 57.7 570.8 57.7 572.3 58.2 575.1 61.1 577.1 67.1 577.1 72.6 575.7 77.6 571.8 81.0 568.8 82.0Z"/>
<path fill-rule="evenodd" fill="rgb(214,214,214)" d="M568.8 81.7 567.3 81.7 565.3 80.7 563.7 78.6 563.2 77.1 563.1 67.1 564.7 60.6 567.8 58.0 570.8 58.0 572.3 58.5 574.9 61.1 576.9 67.1 576.9 72.6 575.4 77.6 571.8 80.7 568.8 81.7Z"/>
<path fill-rule="evenodd" fill="rgb(222,222,222)" d="M569.8 80.2 567.8 80.5 565.3 79.2 563.3 74.0 563.3 67.1 563.7 66.6 563.8 64.1 565.5 61.1 567.3 59.5 568.8 59.0 571.8 59.6 573.8 61.4 576.2 68.1 576.2 72.1 574.4 77.1 572.8 78.7 569.8 80.2Z"/>
<path fill-rule="evenodd" fill="rgb(230,230,230)" d="M570.3 78.2 567.8 78.6 566.7 78.1 565.4 76.1 564.1 70.6 564.4 67.1 565.3 64.4 567.2 61.6 569.3 60.7 572.3 62.2 573.8 64.6 575.0 68.1 574.9 71.6 574.3 73.6 572.7 76.6 570.3 78.2Z"/>
<path fill-rule="evenodd" fill="rgb(237,237,237)" d="M569.3 76.2 567.3 75.7 566.3 74.9 565.3 72.6 565.0 70.1 566.0 65.6 569.3 62.9 570.3 63.3 571.9 65.1 573.4 69.6 573.3 71.1 571.8 74.3 569.3 76.2Z"/>
<path fill-rule="evenodd" fill="rgb(245,245,245)" d="M568.3 74.1 566.8 73.4 565.9 70.6 566.3 67.5 567.8 65.8 570.3 66.7 571.5 69.1 570.8 71.7 568.3 74.1Z"/>
<path fill-rule="evenodd" fill="rgb(252,252,252)" d="M568.3 71.9 567.5 71.6 567.1 70.6 567.1 69.1 567.8 68.1 569.1 69.6 568.3 71.9Z"/></g></g>
<path d="M521.50,102.50 C521.82,102.28 520.85,102.98 523.40,101.20 C525.95,99.42 532.47,94.82 536.80,91.80 C541.13,88.78 546.92,85.47 549.40,83.10 C551.88,80.73 550.78,79.18 551.70,77.60 C552.62,76.02 553.18,74.65 554.90,73.60 C556.62,72.55 559.50,71.95 562.00,71.30 C564.50,70.65 567.27,70.05 569.90,69.70 C572.53,69.35 575.43,69.07 577.80,69.20 C580.17,69.33 582.80,69.50 584.10,70.50 C585.40,71.50 584.95,73.10 585.60,75.20 C586.25,77.30 587.20,80.47 588.00,83.10 C588.80,85.73 589.48,88.63 590.40,91.00 C591.32,93.37 591.93,95.33 593.50,97.30 C595.07,99.27 597.17,101.10 599.80,102.80 C602.43,104.50 606.40,105.92 609.30,107.50 C612.20,109.08 615.58,111.23 617.20,112.30 C618.82,113.37 618.70,113.63 619.00,113.90" fill="none" stroke="#d4dcec" stroke-width="0.75" stroke-dasharray="1.8 1.7" stroke-opacity="0.9"/>
<rect x="634.0" y="10.6" width="4.6" height="103.30" fill="url(#jetv)"/>
<text x="640.6" y="23.30" font-size="7.0">7</text>
<text x="640.6" y="36.60" font-size="7.0">6</text>
<text x="640.6" y="50.00" font-size="7.0">5</text>
<text x="640.6" y="63.60" font-size="7.0">4</text>
<text x="640.6" y="77.20" font-size="7.0">3</text>
<text x="640.6" y="90.60" font-size="7.0">2</text>
<text x="640.6" y="104.00" font-size="7.0">1</text>
<text x="638.8" y="8.40" font-size="7.2">×10<tspan font-size="5.2" dy="-3">15</tspan></text>
<text x="519.00" y="116.50" text-anchor="end" font-size="7.6">0</text>
<text x="519.00" y="95.84" text-anchor="end" font-size="7.6">5</text>
<text x="519.00" y="75.18" text-anchor="end" font-size="7.6">10</text>
<text x="519.00" y="54.52" text-anchor="end" font-size="7.6">15</text>
<text x="519.00" y="33.86" text-anchor="end" font-size="7.6">20</text>
<text x="519.00" y="13.20" text-anchor="end" font-size="7.6">25</text>
<text x="521.30" y="123.20" text-anchor="middle" font-size="7.6">-100</text>
<text x="547.27" y="123.20" text-anchor="middle" font-size="7.6">-50</text>
<text x="573.25" y="123.20" text-anchor="middle" font-size="7.6">0</text>
<text x="599.23" y="123.20" text-anchor="middle" font-size="7.6">50</text>
<text x="625.20" y="123.20" text-anchor="middle" font-size="7.6">100</text>
<text x="573.25" y="132.30" text-anchor="middle" font-size="8.2">Time (fs)</text>
<text transform="translate(508.90,62.25) rotate(-90)" text-anchor="middle" font-size="8.1">Frequency (THz)</text>
<text x="553.80" y="22.60" font-size="11" fill="#fff"><tspan font-style="italic">L</tspan><tspan fill-opacity="0.8">=</tspan>~5.2mm</text>
<text x="488" y="17.5" font-size="16.5">(c)</text>
<g clip-path="url(#clipd)"><g filter="url(#cm)"><rect x="339.8" y="138.8" width="114.39999999999998" height="113.19999999999999" fill="rgb(0,0,0)"/>
<path fill-rule="evenodd" fill="rgb(8,8,8)" d="M451.8 249.8 341.8 249.8 341.8 248.2 342.3 248.1 369.6 245.3 361.7 245.3 341.8 247.1 341.8 238.0 353.9 236.3 341.8 237.3 341.8 208.1 348.3 206.3 355.0 203.3 358.5 200.3 361.8 196.4 364.8 191.3 365.6 188.8 365.3 188.2 359.4 195.3 353.3 200.7 347.3 203.1 341.8 204.6 341.8 196.1 347.8 193.5 349.7 191.8 354.7 184.3 355.8 180.3 354.8 180.4 347.3 189.5 341.8 191.9 341.8 181.8 344.3 177.8 348.5 167.8 347.8 167.6 346.7 168.3 341.8 176.6 341.8 140.8 451.8 140.8 451.8 177.3 425.4 178.3 418.3 179.2 417.4 179.8 419.3 180.5 428.3 181.2 451.8 181.9 451.8 187.9 418.3 189.0 417.5 189.3 417.0 190.3 418.3 191.4 451.8 192.5 451.8 198.5 418.3 199.6 417.6 199.8 417.0 200.8 418.3 202.0 451.8 203.1 451.8 209.1 418.8 210.0 417.7 210.3 417.2 211.3 417.9 212.3 419.3 212.9 451.8 213.7 451.8 227.2 443.0 226.8 451.8 228.0 451.8 237.1 432.9 235.8 451.8 238.1 451.8 247.0 434.0 245.3 416.2 244.8 451.3 248.1 451.8 248.2 451.8 249.8Z"/>
<path fill-rule="evenodd" fill="rgb(15,15,15)" d="M451.8 235.8 428.3 233.8 399.3 233.1 367.5 233.8 341.8 236.0 341.8 209.1 346.8 207.9 355.3 204.3 359.3 200.8 366.1 191.8 369.8 183.8 371.0 180.3 370.8 179.3 369.3 179.4 367.3 180.9 362.1 189.3 358.3 194.3 352.3 199.8 341.8 203.3 341.8 197.7 348.8 194.7 353.0 190.3 356.5 184.8 360.4 175.3 364.3 167.8 364.4 165.3 362.8 165.6 360.8 167.5 347.6 186.3 345.3 188.6 341.8 190.1 341.8 184.7 346.1 179.3 350.2 170.8 354.3 165.1 357.8 162.1 363.0 159.8 371.1 150.3 377.3 145.3 383.3 142.5 390.0 140.8 399.8 140.8 404.8 141.9 409.3 143.6 414.3 146.6 418.3 150.1 426.2 159.8 434.5 167.8 436.0 169.8 436.0 171.3 440.4 172.3 451.8 172.9 451.8 176.5 418.3 178.0 415.8 178.7 415.1 179.8 415.8 180.9 417.8 181.4 451.8 182.6 451.8 187.2 417.8 188.2 416.3 189.2 416.0 190.3 416.4 191.3 417.8 192.2 451.8 193.2 451.8 197.8 417.8 198.8 416.3 199.8 416.0 200.8 416.8 202.3 418.3 202.9 451.8 203.8 451.8 208.4 418.3 209.2 416.4 210.3 416.1 211.3 417.0 212.8 419.3 213.7 451.8 214.5 451.8 217.4 429.8 218.2 425.6 219.3 427.4 219.8 451.8 220.6 451.8 225.9 434.1 224.3 420.3 223.8 416.3 223.9 414.0 224.8 414.1 225.3 451.8 229.4 451.8 235.8ZM341.8 170.2 341.8 165.7 342.3 165.7 343.1 166.8 341.8 170.2ZM451.8 245.8 424.8 243.5 397.8 242.8 368.3 243.6 341.8 245.9 341.8 239.4 363.3 237.1 380.8 235.9 397.8 235.6 415.8 236.2 451.8 239.4 451.8 245.8ZM451.8 249.8 341.8 249.8 345.8 249.0 366.3 247.0 396.3 245.9 427.3 247.0 448.8 249.0 451.8 249.4 451.8 249.8Z"/>
<path fill-rule="evenodd" fill="rgb(23,23,23)" d="M451.8 235.0 425.8 232.8 397.8 232.2 366.3 233.0 341.8 235.2 341.8 209.8 346.8 208.7 355.3 205.0 359.8 201.3 366.7 192.3 371.2 183.3 372.9 180.8 373.8 176.8 373.8 174.8 373.0 174.3 371.8 174.7 366.3 179.5 360.8 188.7 354.3 196.5 351.3 198.7 344.8 201.0 341.8 201.6 341.8 199.5 348.8 196.5 352.0 193.8 357.5 186.3 361.8 176.4 365.8 169.2 369.3 165.1 380.8 154.7 385.3 151.7 390.3 149.9 395.8 149.4 401.3 150.4 405.8 152.4 409.8 155.4 422.1 167.3 424.9 171.8 432.3 173.3 449.2 174.8 448.1 175.3 416.3 177.5 413.8 178.8 414.4 180.8 415.3 181.8 427.3 182.7 451.8 183.5 451.8 186.4 417.8 187.4 415.8 188.5 415.1 190.3 415.8 191.9 417.8 193.0 451.8 194.0 451.8 197.0 417.8 198.0 415.8 199.1 415.1 200.8 416.2 202.8 418.3 203.6 451.8 204.6 451.8 207.6 418.3 208.5 416.3 209.3 415.2 210.8 416.3 213.2 419.3 214.5 443.7 215.8 419.8 217.1 417.2 218.8 416.8 219.8 417.8 220.4 451.8 221.3 451.8 225.0 435.3 223.5 417.8 222.8 411.3 224.1 409.0 225.3 413.3 226.6 451.8 230.2 451.8 235.0ZM358.3 227.3 362.0 226.3 357.8 226.1 354.2 226.8 354.8 227.4 358.3 227.3ZM451.8 245.0 425.3 242.7 397.3 241.9 368.3 242.7 341.8 245.0 341.8 240.2 378.8 237.0 395.3 236.5 412.3 236.9 431.8 238.1 451.8 240.2 451.8 245.0ZM447.8 249.8 345.7 249.8 371.8 247.5 396.8 246.8 422.3 247.6 448.2 249.8 447.8 249.8Z"/>
<path fill-rule="evenodd" fill="rgb(31,31,31)" d="M343.3 234.3 341.8 234.5 341.8 229.6 378.8 226.6 381.0 225.8 380.9 225.3 379.3 224.6 357.8 225.1 341.8 227.6 341.8 210.5 347.3 209.2 352.8 206.9 355.8 205.6 359.7 202.3 367.2 192.8 371.7 183.8 374.5 179.8 379.2 168.3 378.3 167.3 376.3 167.7 373.8 169.6 366.8 176.5 364.3 177.9 364.0 177.3 367.3 170.2 369.3 167.8 372.3 165.9 390.3 157.7 394.8 157.0 398.8 157.5 404.3 160.0 411.8 165.1 415.6 168.8 417.0 171.8 428.8 174.8 425.7 175.8 412.8 177.3 413.4 180.8 414.8 182.5 416.3 183.1 442.8 184.8 417.8 186.7 415.3 187.9 414.4 190.3 415.3 192.5 417.8 193.7 443.6 195.3 442.9 195.8 417.8 197.3 415.6 198.3 414.6 199.8 414.7 202.3 416.3 203.8 418.3 204.4 442.0 205.8 442.7 206.3 418.3 207.7 415.8 208.7 414.6 210.3 414.8 212.3 415.8 213.7 418.8 215.8 415.3 218.9 415.0 219.8 416.8 221.8 415.6 222.3 401.8 224.7 386.3 224.7 385.3 225.3 386.8 226.1 401.8 225.9 412.3 227.4 431.2 228.8 451.8 231.1 451.8 234.1 426.8 232.1 398.3 231.4 366.8 232.2 343.3 234.3ZM451.8 224.2 432.0 222.3 435.3 221.8 451.8 221.9 451.8 224.2ZM451.8 244.1 426.8 241.9 397.8 241.1 367.3 242.0 341.8 244.2 341.8 241.1 376.8 237.9 405.8 237.5 429.4 238.8 451.8 241.1 451.8 244.1ZM439.8 249.8 353.8 249.8 374.3 248.2 396.8 247.6 419.8 248.3 439.8 249.8Z"/>
<path fill-rule="evenodd" fill="rgb(38,38,38)" d="M345.3 226.3 341.8 226.8 341.8 211.1 347.3 209.9 356.3 206.1 360.1 202.8 367.6 193.3 372.6 183.8 378.0 176.3 378.3 174.7 380.0 171.8 382.8 169.0 388.8 164.8 392.3 163.4 396.3 163.2 400.8 164.2 405.4 166.3 408.1 168.3 409.5 170.3 409.8 172.3 409.0 173.8 411.0 176.3 413.3 182.4 415.8 184.1 420.8 184.8 415.8 186.3 414.7 187.3 413.8 189.3 414.0 191.8 415.0 193.3 417.8 194.9 420.5 195.3 415.3 197.4 413.8 199.8 414.4 203.3 418.4 206.3 415.3 208.0 414.0 209.8 413.8 211.3 414.3 212.9 416.7 215.8 413.4 219.8 414.3 221.3 413.9 221.8 409.3 223.0 401.8 223.7 360.3 224.3 345.3 226.3ZM418.8 175.3 416.3 175.5 415.1 174.8 415.8 174.2 417.3 174.0 419.4 174.8 418.8 175.3ZM344.3 233.3 341.8 233.6 341.8 230.9 384.3 227.4 401.8 227.4 436.7 230.8 372.3 231.0 358.3 231.6 344.3 233.3ZM377.8 240.3 363.3 240.3 382.0 238.8 393.3 238.5 409.5 238.8 423.4 239.8 422.3 240.2 377.8 240.3Z"/>
<path fill-rule="evenodd" fill="rgb(46,46,46)" d="M344.8 225.8 341.8 226.2 341.8 212.3 347.8 210.9 356.8 207.1 360.7 203.8 368.7 193.8 373.5 184.8 378.2 178.3 382.3 173.9 386.0 171.8 386.5 171.3 385.8 170.8 386.1 170.3 390.3 168.6 397.3 168.6 399.3 169.3 400.8 170.8 405.8 172.8 409.4 175.8 413.7 185.3 413.1 191.3 415.0 195.3 413.4 198.3 413.0 200.8 413.4 203.3 415.0 205.8 413.5 208.8 413.1 211.3 414.8 215.8 412.0 219.8 412.3 221.3 411.8 221.8 408.8 222.5 401.8 223.1 357.3 224.0 344.8 225.8Z"/>
<path fill-rule="evenodd" fill="rgb(54,54,54)" d="M344.8 225.3 341.8 225.8 341.8 214.3 347.8 213.0 354.3 210.5 357.9 208.8 361.8 205.5 366.5 200.3 370.3 194.9 375.1 185.3 380.8 177.0 383.0 174.8 386.3 172.8 389.8 171.7 397.3 171.0 403.8 172.8 408.8 176.5 412.1 185.3 413.0 195.3 412.4 200.8 413.0 206.3 412.4 211.3 413.4 215.8 410.7 219.8 410.3 221.3 408.3 222.0 401.8 222.6 357.3 223.5 344.8 225.3Z"/>
<path fill-rule="evenodd" fill="rgb(61,61,61)" d="M341.8 225.3 341.8 215.3 348.3 213.8 354.6 211.3 358.3 209.6 362.3 206.2 367.3 200.7 371.1 195.3 375.8 185.8 381.3 177.8 383.8 175.3 386.8 173.6 390.3 172.4 397.3 171.9 403.8 173.8 408.3 177.3 410.0 181.3 411.7 187.8 411.6 211.3 412.3 215.3 411.3 217.8 408.3 220.9 405.8 221.7 401.8 222.0 357.3 223.1 341.8 225.3Z"/>
<path fill-rule="evenodd" fill="rgb(69,69,69)" d="M342.8 224.8 341.8 224.9 341.8 216.3 348.3 214.8 354.8 212.3 358.9 210.3 362.8 206.9 367.9 201.3 371.8 195.9 376.5 186.3 382.3 177.9 384.3 176.0 390.3 173.3 397.3 172.8 403.3 174.5 407.6 177.8 409.3 181.8 410.8 188.3 410.8 211.8 411.3 215.3 410.6 217.3 409.3 218.6 405.3 220.0 402.8 220.0 402.3 221.0 401.3 221.3 385.8 221.4 381.8 221.9 379.3 221.5 357.3 222.5 342.8 224.8Z"/>
<path fill-rule="evenodd" fill="rgb(77,77,77)" d="M343.3 224.3 341.8 224.5 341.8 217.2 348.8 215.7 353.8 213.4 355.3 213.2 359.3 211.2 363.3 207.9 368.9 201.8 372.7 196.3 377.4 186.8 379.2 184.8 381.4 180.8 384.8 176.9 390.6 174.3 397.3 173.7 402.8 175.4 406.7 178.3 408.2 181.8 409.9 188.3 409.9 211.8 410.4 215.3 408.8 217.7 405.3 218.9 402.3 218.9 401.3 219.4 384.8 219.4 383.8 220.3 381.8 220.3 380.3 219.4 355.8 219.4 354.8 220.3 353.1 220.3 355.3 220.7 356.1 221.8 355.3 222.3 343.3 224.3Z"/>
<path fill-rule="evenodd" fill="rgb(84,84,84)" d="M343.3 223.8 341.8 224.0 341.8 219.1 349.3 217.3 356.2 214.3 361.8 210.8 362.7 209.3 367.1 205.3 373.5 196.8 378.0 187.3 380.0 185.3 382.1 181.3 385.3 177.6 390.8 175.1 397.3 174.7 402.3 176.2 405.9 178.8 406.0 179.8 407.5 182.3 409.0 188.3 409.0 212.8 409.4 213.3 409.4 215.3 408.3 216.9 405.3 217.9 401.8 218.0 401.3 218.4 384.3 218.5 383.8 219.0 381.8 219.0 381.3 218.5 355.3 218.0 349.3 219.3 345.8 219.3 345.0 219.8 346.8 220.9 350.3 220.9 351.4 221.8 351.2 222.3 343.3 223.8Z"/>
<path fill-rule="evenodd" fill="rgb(92,92,92)" d="M394.8 217.8 382.3 218.3 381.3 217.8 368.3 217.4 357.9 215.8 362.8 211.8 370.7 202.3 373.8 197.3 378.7 187.3 384.5 179.3 388.3 176.8 394.8 175.4 396.8 175.5 401.8 177.1 405.1 179.8 406.8 182.8 408.0 186.8 408.6 192.8 408.3 214.8 407.6 215.8 404.8 216.9 394.8 217.8ZM343.3 223.3 341.8 223.5 341.8 221.1 344.8 221.2 346.5 222.3 343.3 223.3Z"/>
<path fill-rule="evenodd" fill="rgb(99,99,99)" d="M383.3 217.3 370.3 216.7 362.7 214.8 366.2 209.3 371.3 202.8 379.0 187.8 385.3 179.5 388.3 177.6 394.8 176.3 401.3 177.9 404.3 180.2 405.9 182.8 407.8 188.8 408.0 204.3 407.3 214.3 404.3 216.0 400.3 216.8 383.3 217.3ZM342.3 222.8 341.8 222.8 341.8 222.1 342.9 222.3 342.3 222.8Z"/>
<path fill-rule="evenodd" fill="rgb(107,107,107)" d="M394.3 216.3 382.8 216.7 371.8 216.0 365.3 213.8 367.4 209.3 371.9 203.3 379.6 187.8 382.7 183.3 387.8 178.6 391.8 177.4 395.3 177.1 401.8 179.2 405.4 183.3 407.3 189.3 407.5 204.3 407.0 209.8 405.8 214.2 399.8 216.0 394.3 216.3Z"/>
<path fill-rule="evenodd" fill="rgb(115,115,115)" d="M382.8 215.9 371.3 215.0 367.3 212.8 368.6 209.3 372.5 203.8 379.9 188.3 384.8 181.9 388.3 179.2 391.8 178.2 395.8 178.0 400.8 179.7 404.5 183.3 406.7 189.3 407.0 204.3 406.3 209.3 405.3 212.5 404.8 213.4 403.3 214.2 398.3 215.3 382.8 215.9Z"/>
<path fill-rule="evenodd" fill="rgb(122,122,122)" d="M394.3 214.8 376.8 214.9 371.8 214.2 368.9 212.3 369.7 209.3 373.5 203.8 376.9 195.3 380.4 188.3 382.8 184.8 388.7 179.8 390.8 179.1 395.3 178.8 399.8 180.3 401.8 181.6 403.8 183.7 404.9 185.8 406.1 189.3 406.4 192.8 406.4 204.3 405.6 209.3 403.8 212.7 399.3 214.3 394.3 214.8Z"/>
<path fill-rule="evenodd" fill="rgb(130,130,130)" d="M397.3 213.9 377.3 214.2 372.3 213.4 370.2 211.8 370.5 209.8 374.1 204.3 377.5 195.3 381.0 188.3 383.0 185.3 385.7 182.8 388.8 180.5 390.8 179.9 395.3 179.7 399.8 181.3 403.8 185.0 405.5 189.3 405.9 204.3 405.0 208.8 403.8 211.2 401.8 212.7 397.3 213.9Z"/>
<path fill-rule="evenodd" fill="rgb(138,138,138)" d="M393.8 213.3 377.3 213.5 372.3 212.5 371.3 211.3 372.6 207.8 375.0 204.3 377.8 195.8 381.3 188.8 384.3 184.8 388.9 181.3 390.8 180.6 396.3 180.9 399.3 182.1 402.3 184.2 404.4 187.8 405.3 192.8 405.3 204.3 404.3 208.7 403.3 210.4 401.3 212.0 397.3 213.1 393.8 213.3Z"/>
<path fill-rule="evenodd" fill="rgb(145,145,145)" d="M393.3 213.1 377.3 213.0 374.8 212.0 372.8 212.0 372.1 211.3 373.1 208.3 375.5 204.8 375.5 203.3 377.0 200.3 378.1 195.8 381.6 188.8 384.3 185.1 389.3 181.5 390.8 181.1 394.8 181.0 398.8 182.5 401.8 184.5 404.0 187.8 404.6 192.3 405.0 192.8 405.0 204.3 404.0 208.3 402.8 210.1 400.8 211.6 399.3 211.6 397.3 212.6 393.8 212.6 393.3 213.1Z"/>
<path fill-rule="evenodd" fill="rgb(153,153,153)" d="M393.3 212.4 377.8 212.4 373.0 210.8 375.8 205.1 378.5 195.8 381.9 188.8 384.3 185.5 389.3 182.1 391.3 181.5 395.8 182.0 401.8 185.3 403.6 188.3 404.7 193.3 404.7 203.8 403.4 208.3 400.3 211.1 396.8 212.1 393.3 212.4Z"/>
<path fill-rule="evenodd" fill="rgb(161,161,161)" d="M392.8 211.9 378.3 211.5 374.7 209.8 379.0 196.3 382.3 189.3 384.4 186.3 386.3 184.7 389.8 182.7 391.8 182.2 394.3 182.4 398.3 183.8 401.8 186.3 403.4 189.8 404.3 198.8 404.2 203.8 403.6 206.3 402.0 208.8 400.3 210.3 392.8 211.9Z"/>
<path fill-rule="evenodd" fill="rgb(168,168,168)" d="M392.3 211.3 380.3 210.9 378.3 210.5 376.1 209.3 377.6 202.3 380.1 195.3 383.0 189.3 386.8 185.1 389.8 183.4 393.3 183.0 397.8 184.4 400.8 186.4 401.8 187.8 403.5 193.8 403.9 200.8 403.0 205.8 401.3 208.5 399.8 209.7 392.3 211.3Z"/>
<path fill-rule="evenodd" fill="rgb(176,176,176)" d="M392.8 210.4 387.3 210.7 380.8 210.1 378.3 209.4 377.3 208.3 378.0 202.8 383.2 189.8 386.8 185.8 390.3 184.0 392.3 183.7 397.8 185.2 401.0 187.8 402.9 193.8 403.4 199.3 403.1 203.3 402.4 205.8 401.0 207.8 399.8 208.9 396.3 210.1 392.8 210.4Z"/>
<path fill-rule="evenodd" fill="rgb(184,184,184)" d="M392.3 209.9 387.3 210.0 380.8 209.3 378.8 208.6 378.2 206.3 378.6 202.8 381.1 195.8 384.5 188.8 386.8 186.4 389.3 185.0 392.8 184.4 397.3 185.7 400.5 188.3 402.6 195.3 402.9 200.8 401.9 205.3 399.8 208.0 395.8 209.5 392.3 209.9Z"/>
<path fill-rule="evenodd" fill="rgb(191,191,191)" d="M391.8 209.3 387.3 209.3 380.8 208.4 379.5 207.8 378.9 204.8 379.2 202.8 382.2 194.3 384.8 189.3 387.2 186.8 389.3 185.6 392.8 185.1 396.8 186.3 400.0 188.8 402.0 195.3 402.4 200.8 401.3 205.2 399.3 207.5 395.8 208.8 391.8 209.3Z"/>
<path fill-rule="evenodd" fill="rgb(199,199,199)" d="M392.3 208.5 387.3 208.7 381.3 207.7 379.6 206.3 379.5 204.8 379.6 203.3 383.1 193.3 385.3 189.4 387.4 187.3 389.3 186.3 392.8 185.8 396.8 187.0 399.5 189.3 401.5 195.8 401.9 200.8 400.9 204.8 398.8 207.0 392.3 208.5Z"/>
<path fill-rule="evenodd" fill="rgb(207,207,207)" d="M391.8 208.2 381.8 207.6 380.5 206.8 380.0 205.8 380.0 203.3 381.4 200.8 382.0 197.8 384.5 191.3 387.8 187.5 389.8 186.4 393.3 186.5 396.3 187.4 399.2 189.8 401.2 195.8 401.1 198.8 401.6 199.3 400.6 204.3 398.3 206.7 395.3 207.7 392.3 207.7 391.8 208.2Z"/>
<path fill-rule="evenodd" fill="rgb(214,214,214)" d="M391.8 207.9 381.8 207.3 380.3 205.8 380.3 203.3 381.7 200.8 383.7 193.3 384.7 192.3 384.7 191.3 385.7 189.8 387.8 187.7 389.8 186.7 393.3 186.7 396.3 187.7 398.9 189.8 400.9 195.8 400.9 198.8 401.4 199.3 400.4 204.3 398.3 206.4 395.3 207.4 392.3 207.4 391.8 207.9Z"/>
<path fill-rule="evenodd" fill="rgb(222,222,222)" d="M391.3 206.8 384.8 206.1 382.3 205.3 381.6 204.3 384.0 195.3 385.4 191.8 388.3 188.5 390.3 187.6 391.8 187.5 395.8 188.5 398.1 190.3 400.2 196.3 400.6 199.8 399.3 203.8 397.8 205.3 391.3 206.8Z"/>
<path fill-rule="evenodd" fill="rgb(230,230,230)" d="M393.8 204.8 388.8 205.0 385.3 204.1 384.2 203.3 385.7 194.3 387.8 190.8 390.8 189.0 393.8 189.3 396.8 190.8 399.0 196.8 398.8 200.3 397.8 202.9 396.8 203.8 393.8 204.8Z"/>
<path fill-rule="evenodd" fill="rgb(237,237,237)" d="M391.3 202.8 389.3 202.8 387.3 201.9 386.8 199.3 387.0 196.3 388.2 193.3 389.4 191.8 391.3 190.8 395.3 191.9 396.4 193.8 397.3 197.3 396.8 200.2 395.9 201.8 393.8 202.7 391.3 202.8Z"/>
<path fill-rule="evenodd" fill="rgb(245,245,245)" d="M392.3 200.3 389.9 199.8 389.1 196.8 390.3 193.9 392.3 192.9 394.3 194.1 395.3 196.8 394.0 199.8 392.3 200.3Z"/>
<path fill-rule="evenodd" fill="rgb(252,252,252)" d="M392.8 197.0 391.8 197.1 391.4 196.3 391.4 195.3 392.3 194.5 393.2 195.3 392.8 197.0Z"/></g></g>
<path d="M344.00,225.00 C345.58,224.27 350.05,222.22 353.50,220.60 C356.95,218.98 361.25,217.02 364.70,215.30 C368.15,213.58 371.28,212.05 374.20,210.30 C377.12,208.55 379.67,206.63 382.20,204.80 C384.73,202.97 387.02,200.75 389.40,199.30 C391.78,197.85 394.38,196.37 396.50,196.10 C398.62,195.83 400.37,196.50 402.10,197.70 C403.83,198.90 405.57,200.90 406.90,203.30 C408.23,205.70 409.18,209.45 410.10,212.10 C411.02,214.75 410.95,217.48 412.40,219.20 C413.85,220.92 416.13,221.33 418.80,222.40 C421.47,223.47 424.95,224.13 428.40,225.60 C431.85,227.07 436.07,229.47 439.50,231.20 C442.93,232.93 447.42,235.20 449.00,236.00" fill="none" stroke="#d4dcec" stroke-width="0.75" stroke-dasharray="1.8 1.7" stroke-opacity="0.9"/>
<rect x="458.2" y="143.8" width="4.6" height="103.20" fill="url(#jetv)"/>
<text x="464.8" y="158.10" font-size="7.0">3</text>
<text x="464.8" y="173.80" font-size="7.0">2.5</text>
<text x="464.8" y="189.20" font-size="7.0">2</text>
<text x="464.8" y="204.50" font-size="7.0">1.5</text>
<text x="464.8" y="219.50" font-size="7.0">1</text>
<text x="464.8" y="234.90" font-size="7.0">0.5</text>
<text x="463.0" y="141.60" font-size="7.2">×10<tspan font-size="5.2" dy="-3">15</tspan></text>
<text x="342.50" y="249.60" text-anchor="end" font-size="7.6">0</text>
<text x="342.50" y="228.96" text-anchor="end" font-size="7.6">5</text>
<text x="342.50" y="208.32" text-anchor="end" font-size="7.6">10</text>
<text x="342.50" y="187.68" text-anchor="end" font-size="7.6">15</text>
<text x="342.50" y="167.04" text-anchor="end" font-size="7.6">20</text>
<text x="342.50" y="146.40" text-anchor="end" font-size="7.6">25</text>
<text x="344.80" y="256.30" text-anchor="middle" font-size="7.6">-100</text>
<text x="370.90" y="256.30" text-anchor="middle" font-size="7.6">-50</text>
<text x="397.00" y="256.30" text-anchor="middle" font-size="7.6">0</text>
<text x="423.10" y="256.30" text-anchor="middle" font-size="7.6">50</text>
<text x="449.20" y="256.30" text-anchor="middle" font-size="7.6">100</text>
<text x="397.00" y="265.40" text-anchor="middle" font-size="8.2">Time (fs)</text>
<text transform="translate(332.40,195.40) rotate(-90)" text-anchor="middle" font-size="8.1">Frequency (THz)</text>
<text x="373.10" y="155.80" font-size="11" fill="#fff"><tspan font-style="italic">L</tspan><tspan fill-opacity="0.8">=</tspan>~9.5mm</text>
<text x="309" y="145" font-size="16.5">(d)</text>
<g clip-path="url(#clipe)"><g filter="url(#cm)"><rect x="516.3" y="139.0" width="114.5" height="113.0" fill="rgb(0,0,0)"/>
<path fill-rule="evenodd" fill="rgb(8,8,8)" d="M628.8 250.0 623.5 250.0 614.7 242.5 608.3 238.3 609.8 242.0 615.7 250.0 606.3 250.0 601.3 244.1 597.8 241.0 597.3 241.5 597.7 243.5 600.7 250.0 592.8 250.0 591.8 249.3 591.2 250.0 518.3 250.0 518.3 230.2 526.4 229.0 528.7 228.0 518.3 227.8 518.3 219.1 528.3 218.4 529.2 216.0 528.8 215.3 518.3 216.0 518.3 187.6 533.0 180.5 539.5 176.0 538.3 175.8 535.3 176.6 518.3 184.3 518.3 175.3 527.3 170.3 534.0 165.5 535.1 164.0 533.4 164.0 529.3 165.4 518.3 170.7 518.3 141.0 628.8 141.0 628.8 176.7 594.9 188.5 628.8 181.6 628.8 188.2 595.2 193.5 628.8 192.8 628.8 199.2 595.3 198.5 628.8 203.7 628.8 210.4 595.2 203.5 628.8 215.3 628.8 222.7 598.4 210.0 594.7 209.0 609.2 217.5 628.8 227.9 628.8 237.9 605.9 222.0 595.8 215.5 594.1 215.0 595.7 217.0 602.4 222.5 619.8 235.2 628.8 243.5 628.8 250.0ZM595.9 183.0 617.8 174.0 621.5 172.0 621.9 171.0 617.8 171.1 611.8 173.3 594.7 183.0 595.9 183.0ZM595.5 176.5 599.6 173.5 597.5 174.0 594.6 176.5 595.5 176.5ZM600.6 230.0 597.2 225.5 593.8 222.6 593.8 223.5 595.8 226.2 600.6 230.0Z"/>
<path fill-rule="evenodd" fill="rgb(15,15,15)" d="M628.8 250.0 625.5 250.0 608.8 236.2 597.0 224.0 591.3 219.3 590.6 219.5 590.7 220.5 592.0 223.0 604.0 236.0 614.0 250.0 607.8 250.0 594.3 235.1 594.0 236.0 594.8 239.0 599.4 250.0 594.4 250.0 591.8 245.7 590.3 244.6 587.8 245.8 573.3 246.5 560.3 246.5 559.8 247.3 558.3 247.2 550.8 245.9 536.6 241.0 529.8 239.8 518.3 239.3 518.3 232.3 529.8 231.1 543.3 230.4 544.6 229.5 543.8 227.1 540.3 225.6 529.8 224.7 523.3 225.6 518.3 225.6 518.3 220.8 528.3 220.2 529.3 219.3 530.0 216.0 529.3 214.0 522.8 214.9 518.3 214.9 518.3 188.8 521.3 187.8 542.8 176.3 546.2 175.0 549.0 172.5 549.7 171.0 547.8 170.5 540.8 172.2 518.3 182.7 518.3 177.3 541.3 164.5 544.5 162.0 545.6 160.5 545.8 159.0 542.3 156.5 547.3 150.5 550.8 147.3 557.8 143.3 566.0 141.0 575.7 141.0 583.3 143.0 590.8 147.4 596.4 153.5 599.8 160.5 601.8 169.0 593.1 176.5 591.9 178.0 591.8 179.1 593.8 178.4 606.3 171.1 609.8 170.3 611.8 170.8 611.2 172.0 609.1 173.5 593.1 183.0 592.0 184.0 592.3 184.9 620.3 174.2 628.8 171.8 628.8 175.5 595.0 187.5 592.7 188.5 592.2 189.5 595.1 189.5 628.8 182.7 628.8 187.1 595.8 192.5 592.8 193.2 592.4 194.0 595.3 194.5 628.8 193.8 628.8 198.2 595.3 197.6 592.5 198.0 592.8 198.7 595.3 199.4 628.8 204.8 628.8 209.3 594.8 202.5 592.8 202.4 592.5 203.0 595.1 204.5 628.8 216.5 628.8 221.4 595.3 208.0 593.3 207.4 592.4 208.0 593.1 209.0 595.4 210.5 628.8 229.2 628.8 236.3 595.5 214.5 592.3 212.8 591.8 213.5 592.5 215.0 595.1 217.5 618.1 235.5 628.8 245.5 628.8 250.0ZM518.3 168.1 518.3 164.2 526.8 160.5 530.3 159.7 531.8 160.0 524.3 165.2 518.3 168.1ZM557.8 225.5 558.9 225.0 558.9 224.0 551.8 218.7 550.2 220.0 549.0 222.0 548.8 222.5 550.3 223.4 554.8 225.1 557.8 225.5ZM537.8 248.5 518.3 248.5 518.3 247.1 523.8 246.8 529.8 245.3 536.8 244.8 538.1 247.0 538.3 248.0 537.8 248.5Z"/>
<path fill-rule="evenodd" fill="rgb(23,23,23)" d="M628.8 250.0 610.1 236.0 590.8 216.7 589.8 216.8 588.0 219.5 583.8 222.9 580.3 224.6 574.8 226.2 569.3 226.2 562.8 224.6 560.3 223.4 552.3 217.7 549.8 219.5 546.8 223.3 544.8 224.0 536.3 224.0 532.5 223.0 531.0 221.0 529.8 213.2 518.3 214.2 518.3 189.6 521.8 188.4 543.3 177.1 547.4 175.5 554.8 171.0 557.1 167.5 556.7 166.5 554.8 165.9 549.8 166.7 543.8 169.1 534.5 171.5 550.3 161.4 554.8 158.0 557.3 155.0 559.8 153.0 563.8 151.0 567.8 150.0 572.8 149.8 577.8 151.0 582.3 153.4 585.6 156.5 587.7 160.0 588.9 164.0 589.2 170.0 588.2 175.0 588.8 176.6 589.3 176.9 590.5 175.0 593.8 172.1 595.3 171.4 596.5 171.5 594.9 174.0 589.8 177.7 589.8 180.0 590.3 181.1 591.3 181.0 602.8 174.1 605.3 173.2 606.5 173.5 603.4 176.0 591.8 182.8 590.7 184.5 591.3 185.9 619.0 176.0 622.5 175.0 624.8 175.0 609.3 181.5 592.3 187.8 591.1 189.0 591.1 190.0 592.8 190.5 628.8 184.3 628.8 185.6 592.8 192.4 591.6 193.0 591.2 194.0 592.8 195.0 628.8 195.3 628.8 196.7 592.8 197.0 591.3 198.0 591.9 199.0 593.3 199.6 628.8 206.4 628.8 207.7 592.8 201.6 591.3 202.5 593.3 204.4 628.4 218.0 628.8 218.2 628.8 219.6 593.3 206.6 591.8 206.6 591.3 207.5 592.8 209.7 616.3 223.8 628.8 230.6 628.8 234.7 612.3 223.8 592.8 212.0 591.3 211.7 590.6 213.0 591.8 215.9 619.1 238.0 628.8 248.3 628.8 250.0ZM611.8 250.0 609.9 250.0 597.3 236.8 592.1 229.0 591.1 226.0 591.3 224.7 593.8 226.4 602.8 236.0 611.8 250.0ZM597.8 250.0 595.9 250.0 591.8 242.9 589.3 240.4 569.3 241.7 560.3 241.4 559.8 240.6 557.8 240.4 553.3 242.3 550.3 242.4 544.8 241.1 538.8 238.2 518.3 236.7 518.3 234.7 529.8 233.0 539.8 232.4 549.8 235.0 550.5 234.5 550.6 233.5 549.3 229.7 547.4 226.5 547.8 225.4 559.8 228.8 560.8 228.1 570.3 227.0 575.8 227.2 582.8 228.3 588.3 229.4 589.8 230.9 592.8 236.8 597.8 250.0Z"/>
<path fill-rule="evenodd" fill="rgb(31,31,31)" d="M576.8 224.0 569.3 224.5 563.8 223.2 559.8 221.6 552.3 216.8 546.8 222.2 544.3 223.1 536.3 223.2 533.8 222.4 530.9 218.0 530.5 212.5 518.3 213.5 518.3 190.3 521.8 189.1 543.3 178.0 546.3 177.0 553.5 173.0 558.3 170.7 560.3 170.5 562.8 169.0 563.4 168.5 563.1 165.5 563.8 163.0 566.8 159.9 570.8 158.8 574.8 160.0 576.6 161.5 577.7 163.5 577.9 168.5 582.6 171.5 585.3 174.1 588.1 179.0 589.7 183.5 589.6 186.0 590.4 188.0 590.1 190.5 591.1 192.0 590.2 194.0 592.3 196.0 590.8 197.0 590.3 198.0 592.2 200.5 590.3 202.0 590.8 203.5 592.2 205.0 590.3 206.5 591.1 210.0 589.8 211.3 589.3 214.5 587.3 217.8 585.1 220.0 580.3 222.8 576.8 224.0ZM595.3 180.0 594.5 180.0 595.8 179.0 596.7 179.0 595.3 180.0ZM595.3 186.1 594.2 186.0 596.3 185.0 597.8 185.0 595.3 186.1ZM594.8 191.5 594.0 191.5 594.1 191.0 599.2 190.5 594.8 191.5ZM600.3 196.1 595.8 196.4 593.5 196.0 595.8 195.6 600.8 196.0 600.3 196.1ZM599.3 201.9 595.7 201.5 593.6 200.5 599.6 201.5 599.3 201.9ZM600.8 202.0 599.6 202.0 600.8 202.0ZM598.8 207.6 594.0 206.0 595.8 206.0 598.8 207.6ZM595.8 212.8 595.3 212.2 595.8 212.8ZM604.3 241.8 601.3 239.7 597.3 235.4 594.3 230.7 593.8 228.3 595.8 229.6 601.3 235.6 603.9 239.5 604.3 241.8ZM616.3 238.6 610.3 234.5 606.8 231.0 605.8 229.1 613.8 235.0 616.2 237.5 616.7 238.5 616.3 238.6ZM559.8 234.7 558.0 233.5 558.2 232.5 559.8 232.6 559.8 234.7Z"/>
<path fill-rule="evenodd" fill="rgb(38,38,38)" d="M575.8 223.0 569.3 223.2 563.8 221.9 558.8 219.7 552.8 215.7 546.8 221.4 544.3 222.5 536.8 222.6 534.3 221.9 531.3 217.8 531.3 211.8 518.3 212.7 518.3 191.0 522.3 189.7 535.3 183.3 537.8 181.5 548.3 177.0 553.8 174.0 558.8 171.7 560.8 171.6 563.3 170.1 568.3 168.8 573.8 168.8 578.1 170.0 581.8 172.5 584.4 175.0 587.2 180.0 588.5 184.5 589.1 193.5 589.8 196.0 589.4 198.0 589.7 204.5 588.3 213.0 586.3 217.0 582.3 220.4 575.8 223.0Z"/>
<path fill-rule="evenodd" fill="rgb(46,46,46)" d="M575.3 222.1 569.3 222.2 564.3 221.0 559.8 218.8 552.3 213.9 551.9 216.0 546.3 221.2 543.8 222.1 540.3 222.1 536.3 222.1 534.3 221.3 531.6 217.5 531.7 212.5 532.8 211.0 528.8 210.6 522.3 211.6 518.3 211.6 518.3 192.2 522.8 190.7 535.8 184.4 538.3 182.7 563.8 171.0 568.3 169.8 573.8 169.8 577.3 170.7 581.3 173.4 583.8 175.9 586.3 180.5 587.5 185.0 588.5 195.5 588.5 207.0 587.3 213.0 585.4 216.5 581.8 219.5 575.3 222.1Z"/>
<path fill-rule="evenodd" fill="rgb(54,54,54)" d="M544.3 221.5 536.3 221.7 534.3 220.8 531.9 217.5 531.7 214.0 532.9 211.5 535.8 210.1 540.3 209.4 528.3 208.8 522.3 209.8 518.3 209.8 518.3 194.3 523.4 192.5 559.3 174.0 567.3 170.9 574.3 170.9 576.8 171.5 580.6 174.0 583.3 176.7 585.3 180.5 586.5 185.0 587.0 189.5 587.6 195.5 587.5 207.0 586.4 212.5 584.8 215.8 582.8 217.7 578.7 220.0 574.8 221.2 569.3 221.2 562.3 219.0 552.8 212.3 549.3 210.9 550.8 211.7 551.8 213.5 551.8 215.5 546.3 220.8 544.3 221.5Z"/>
<path fill-rule="evenodd" fill="rgb(61,61,61)" d="M575.3 220.2 569.3 220.4 564.8 219.2 553.1 211.5 546.8 209.0 542.8 208.4 533.8 208.4 531.8 207.9 518.3 208.9 518.3 195.3 523.8 193.3 537.8 186.3 539.3 185.0 547.8 181.3 555.3 177.0 564.3 172.8 568.3 171.6 573.3 171.6 576.3 172.3 580.3 174.9 582.4 177.0 584.5 181.0 585.7 185.0 586.7 195.5 586.7 206.5 585.5 212.5 583.9 215.5 580.8 218.0 575.3 220.2ZM544.3 221.1 536.8 221.4 534.6 220.5 532.2 217.0 532.1 214.0 532.9 212.0 535.8 210.4 541.3 209.4 547.8 210.4 549.8 211.5 551.5 213.5 551.4 215.5 546.3 220.3 544.3 221.1Z"/>
<path fill-rule="evenodd" fill="rgb(69,69,69)" d="M574.3 219.5 569.3 219.5 564.8 218.3 553.3 210.5 546.8 208.0 543.3 207.5 533.8 207.5 532.3 207.0 518.3 208.0 518.3 196.2 524.3 194.0 538.3 187.0 539.8 185.7 545.8 182.7 548.3 182.0 555.8 177.7 557.3 177.5 559.8 175.7 562.3 175.0 564.8 173.5 568.3 172.5 573.3 172.5 576.3 173.2 581.8 177.6 583.8 181.5 583.8 183.0 584.8 185.0 585.8 195.5 585.8 206.5 584.8 212.0 583.3 214.9 580.3 217.3 574.3 219.5ZM544.3 220.6 536.8 221.0 534.8 220.2 532.5 217.0 532.4 214.5 533.0 212.5 535.8 210.7 541.3 209.7 545.8 210.2 549.8 211.8 551.3 214.0 551.0 215.5 546.1 220.0 544.3 220.6Z"/>
<path fill-rule="evenodd" fill="rgb(77,77,77)" d="M574.3 218.6 569.8 218.6 565.3 217.4 557.3 212.4 553.8 209.6 547.3 207.1 543.8 206.6 533.8 206.6 532.3 206.1 518.3 206.9 518.4 197.5 519.8 196.6 523.8 195.4 538.8 187.9 540.3 186.6 546.3 183.6 547.8 183.4 556.3 178.6 557.8 178.4 560.3 176.6 561.8 176.4 564.8 174.6 568.3 173.4 573.3 173.4 575.8 174.1 581.2 178.5 583.8 185.3 584.4 194.5 584.9 195.5 584.9 206.5 583.8 211.7 582.7 214.0 579.8 216.4 574.3 218.6ZM542.8 220.5 536.8 220.6 536.3 220.0 535.3 220.0 532.7 217.0 532.6 214.5 533.8 212.0 538.3 210.4 543.3 210.0 547.8 211.0 550.3 212.8 551.0 214.5 550.2 216.0 545.8 219.8 542.8 220.5Z"/>
<path fill-rule="evenodd" fill="rgb(84,84,84)" d="M574.3 217.7 569.8 217.7 565.8 216.7 559.3 212.2 557.8 211.7 554.3 208.7 553.3 208.7 550.8 207.2 549.3 207.2 547.8 206.3 526.8 205.0 525.8 205.4 519.3 205.7 518.3 204.7 518.3 199.8 520.8 197.7 524.3 196.5 539.3 188.8 540.8 187.3 546.8 184.3 548.3 184.3 556.8 179.3 558.3 179.3 560.8 177.3 562.3 177.3 565.3 175.3 566.8 175.3 568.3 174.3 573.3 174.3 575.3 174.8 580.5 179.0 582.0 182.0 582.1 184.0 583.0 185.5 583.6 195.0 584.1 195.5 584.0 206.5 583.5 207.0 583.0 211.5 582.0 213.5 579.3 215.6 577.3 216.7 575.8 216.7 574.3 217.7ZM543.8 220.3 536.8 220.3 536.3 219.7 535.3 219.7 533.4 216.5 533.1 213.5 534.3 212.1 536.3 211.1 540.8 210.6 541.3 210.2 545.8 210.7 549.3 212.2 550.7 214.0 550.0 216.0 545.8 219.6 544.3 219.7 543.8 220.3Z"/>
<path fill-rule="evenodd" fill="rgb(92,92,92)" d="M574.3 216.5 570.3 216.9 566.3 215.9 558.0 211.0 554.8 208.5 547.8 205.8 534.8 204.7 526.8 203.3 520.8 203.1 519.8 202.0 521.5 200.0 542.3 187.3 548.8 184.6 557.3 179.8 558.8 179.6 565.8 175.9 568.8 175.0 572.8 175.0 574.8 175.6 577.8 177.5 581.0 181.5 582.6 186.0 583.6 196.0 583.5 206.0 582.2 211.0 580.3 213.8 576.8 215.8 574.3 216.5ZM543.8 220.0 536.8 220.1 535.6 219.0 533.8 213.0 536.3 211.3 541.3 210.3 545.8 210.9 549.3 212.4 550.5 214.0 550.4 215.0 543.8 220.0Z"/>
<path fill-rule="evenodd" fill="rgb(99,99,99)" d="M573.3 216.0 570.8 216.0 565.3 214.6 558.3 210.5 554.8 207.8 551.3 206.2 544.3 204.7 534.8 203.7 524.8 201.0 532.8 193.7 545.3 186.6 548.8 185.3 565.8 176.7 569.3 175.7 574.3 176.3 577.3 178.2 579.3 180.2 580.7 182.5 582.0 186.0 582.7 190.5 583.0 203.0 582.2 208.5 580.3 212.6 576.8 214.8 573.3 216.0ZM541.8 219.5 537.8 218.8 535.3 214.0 535.3 212.5 536.3 211.6 542.8 210.6 547.3 211.7 549.3 213.0 549.8 214.6 545.8 217.0 543.3 219.2 541.8 219.5Z"/>
<path fill-rule="evenodd" fill="rgb(107,107,107)" d="M573.3 215.2 568.8 214.9 565.8 214.0 558.7 210.0 555.3 207.4 551.3 205.5 535.3 202.7 529.1 200.0 529.2 199.5 533.8 193.9 545.8 187.0 566.3 177.2 569.3 176.4 574.3 177.2 579.0 181.0 581.5 186.5 582.2 191.0 582.5 202.5 582.3 205.5 580.0 211.5 576.3 214.2 573.3 215.2ZM541.8 218.1 540.3 217.7 538.4 216.0 537.0 212.5 538.8 211.6 542.3 211.0 547.3 212.5 548.3 213.5 548.2 214.5 541.8 218.1Z"/>
<path fill-rule="evenodd" fill="rgb(115,115,115)" d="M573.8 214.1 571.3 214.4 566.3 213.4 551.8 205.0 538.3 202.7 535.3 201.6 531.7 199.0 534.3 194.5 543.8 188.7 566.3 178.0 569.8 177.1 573.8 177.8 576.3 179.3 579.6 183.0 581.2 187.5 582.0 196.5 581.7 205.5 579.8 210.4 577.5 212.5 573.8 214.1ZM542.3 216.6 540.2 215.5 539.6 212.5 542.3 211.7 545.3 213.0 544.6 215.0 542.3 216.6Z"/>
<path fill-rule="evenodd" fill="rgb(122,122,122)" d="M572.8 213.5 566.0 212.5 551.8 204.4 540.3 202.4 535.8 200.7 533.5 198.5 534.3 196.0 536.1 194.0 543.8 189.4 562.3 180.4 568.8 178.0 571.3 177.9 573.3 178.5 575.8 179.9 578.5 182.5 580.7 187.5 581.2 191.0 581.4 202.5 581.0 205.5 578.8 210.4 575.8 212.5 572.8 213.5ZM542.3 215.4 541.7 215.0 542.3 214.2 542.3 215.4Z"/>
<path fill-rule="evenodd" fill="rgb(130,130,130)" d="M573.3 212.5 568.8 212.5 564.8 211.2 552.3 203.8 541.8 202.1 538.8 201.1 535.4 199.0 534.9 197.5 535.5 195.5 544.3 189.9 563.8 180.4 568.8 178.7 572.8 179.1 575.3 180.4 578.4 183.5 580.7 190.0 580.9 197.0 580.9 202.5 579.5 207.5 578.0 210.0 573.3 212.5Z"/>
<path fill-rule="evenodd" fill="rgb(138,138,138)" d="M573.3 211.6 568.8 211.7 565.3 210.7 552.3 203.1 540.4 201.0 536.4 198.5 536.1 196.0 536.9 195.0 544.5 190.5 547.8 189.3 564.1 181.0 568.8 179.3 570.8 179.3 572.8 179.9 574.8 181.0 577.8 183.7 579.8 188.0 580.3 191.5 580.3 202.5 579.9 205.0 577.8 209.1 573.3 211.6Z"/>
<path fill-rule="evenodd" fill="rgb(145,145,145)" d="M572.8 211.3 568.8 211.3 565.3 210.3 562.3 208.3 560.3 207.8 552.8 202.7 540.8 200.6 537.2 198.0 536.7 196.0 544.8 190.9 546.8 189.8 548.3 189.8 552.8 186.8 555.3 186.3 559.8 183.3 561.3 183.2 564.3 181.2 568.8 179.8 572.3 180.2 573.3 181.2 574.3 181.2 577.5 184.0 580.0 190.0 580.0 202.5 579.5 203.0 579.5 205.0 577.3 208.8 572.8 211.3Z"/>
<path fill-rule="evenodd" fill="rgb(153,153,153)" d="M572.8 210.7 568.8 210.9 565.3 210.0 563.3 208.6 560.3 207.4 553.3 202.4 541.8 199.0 539.4 197.0 539.5 196.5 546.3 191.5 548.8 190.5 554.3 186.8 555.8 186.5 559.8 183.7 567.3 180.7 570.3 180.2 571.8 180.7 574.3 182.0 577.1 184.5 579.6 190.5 579.6 202.0 579.1 204.5 576.8 208.3 572.8 210.7Z"/>
<path fill-rule="evenodd" fill="rgb(161,161,161)" d="M572.3 210.2 569.3 210.4 564.8 209.1 560.8 207.0 553.3 201.5 543.8 197.5 543.0 197.0 543.2 196.5 547.8 192.3 560.3 184.2 567.3 181.4 569.8 180.9 571.8 181.5 573.8 182.5 576.9 185.5 578.4 188.5 579.1 193.0 579.0 201.5 578.3 204.5 576.3 207.7 572.3 210.2Z"/>
<path fill-rule="evenodd" fill="rgb(168,168,168)" d="M571.8 209.6 569.8 209.9 564.8 208.7 560.8 206.3 553.8 200.9 549.8 198.7 546.8 196.5 546.7 196.0 548.3 194.0 554.8 188.6 563.8 183.2 569.8 181.7 573.3 183.1 576.0 185.5 577.8 189.0 578.5 193.0 578.5 199.0 577.7 204.0 576.7 206.0 574.8 208.0 571.8 209.6Z"/>
<path fill-rule="evenodd" fill="rgb(176,176,176)" d="M571.8 209.0 569.8 209.3 564.8 208.2 561.2 206.0 549.5 196.0 552.9 191.5 560.8 185.4 564.8 183.3 569.8 182.4 573.3 183.9 575.5 186.0 577.1 189.0 577.9 193.0 577.9 199.0 576.9 204.0 575.3 206.7 571.8 209.0Z"/>
<path fill-rule="evenodd" fill="rgb(184,184,184)" d="M570.8 208.6 566.3 208.3 562.3 206.2 553.1 198.0 551.7 195.5 552.6 193.5 554.9 191.0 561.1 186.0 565.3 183.7 569.8 183.2 572.9 184.5 575.7 187.5 576.9 191.0 577.3 198.5 576.4 203.5 574.3 206.7 570.8 208.6Z"/>
<path fill-rule="evenodd" fill="rgb(191,191,191)" d="M570.3 208.2 566.8 208.0 563.8 206.7 555.3 199.0 553.4 195.5 553.7 194.0 555.2 192.0 561.3 186.6 565.3 184.3 569.8 183.9 572.8 185.3 575.2 188.0 576.3 191.5 576.7 198.5 575.8 203.0 574.0 206.0 570.3 208.2Z"/>
<path fill-rule="evenodd" fill="rgb(199,199,199)" d="M570.3 207.6 566.8 207.6 564.3 206.5 558.1 201.0 555.1 197.0 554.8 194.5 555.8 192.8 561.7 187.0 565.3 184.8 569.8 184.6 572.3 185.8 574.5 188.0 575.7 191.5 576.1 198.5 575.0 203.0 573.5 205.5 570.3 207.6Z"/>
<path fill-rule="evenodd" fill="rgb(207,207,207)" d="M569.8 207.3 566.8 207.3 564.3 206.3 555.5 197.0 555.5 194.5 558.0 191.0 563.3 186.2 564.3 186.2 565.3 185.2 569.8 185.1 571.8 186.1 574.2 188.5 575.7 193.5 575.7 198.5 574.7 202.5 573.2 205.0 569.8 207.3Z"/>
<path fill-rule="evenodd" fill="rgb(214,214,214)" d="M569.8 207.1 566.8 207.1 564.3 206.1 555.8 197.0 555.8 194.5 558.3 191.0 563.3 186.4 564.3 186.4 565.3 185.4 569.8 185.4 571.8 186.4 573.9 188.5 575.4 193.5 575.4 198.5 574.9 199.0 574.4 202.5 572.9 205.0 569.8 207.1Z"/>
<path fill-rule="evenodd" fill="rgb(222,222,222)" d="M569.3 206.1 567.3 206.1 564.5 205.0 559.8 200.4 557.3 196.5 557.7 194.0 559.8 191.2 563.6 187.5 565.8 186.4 569.3 186.4 571.5 187.5 573.0 189.0 574.8 194.0 574.8 198.0 573.6 202.0 572.3 204.2 569.3 206.1Z"/>
<path fill-rule="evenodd" fill="rgb(230,230,230)" d="M568.8 204.5 566.3 204.2 563.8 202.5 560.9 199.5 558.9 196.0 559.3 194.6 562.0 191.0 564.3 189.0 566.8 187.9 568.8 188.0 571.4 189.5 573.6 194.5 573.6 197.5 572.3 201.5 571.3 203.0 568.8 204.5Z"/>
<path fill-rule="evenodd" fill="rgb(237,237,237)" d="M568.3 202.5 566.3 202.0 564.2 200.5 562.4 198.5 561.3 196.0 563.3 192.4 565.3 190.7 567.3 190.0 569.8 190.8 571.3 193.0 572.1 195.5 571.3 199.4 570.0 201.5 568.3 202.5Z"/>
<path fill-rule="evenodd" fill="rgb(245,245,245)" d="M568.3 199.7 567.3 199.8 565.7 199.0 564.4 197.5 563.9 196.0 564.8 194.0 567.3 192.6 569.1 193.5 570.3 195.5 569.8 198.0 568.3 199.7Z"/>
<path fill-rule="evenodd" fill="rgb(252,252,252)" d="M567.8 197.1 566.8 196.9 566.4 196.0 567.3 194.9 568.3 195.2 568.6 196.0 567.8 197.1Z"/></g></g>
<path d="M521,206 L544,196 L579,195.6 L584.7,208.8 L591.7,225.5 L603,232.5 L618,246.5" fill="none" stroke="#d4dcec" stroke-width="0.75" stroke-dasharray="1.8 1.7" stroke-opacity="0.9"/>
<rect x="634.0" y="144.0" width="4.6" height="103.00" fill="url(#jetv)"/>
<text x="640.6" y="156.60" font-size="7.0">10</text>
<text x="640.6" y="175.10" font-size="7.0">8</text>
<text x="640.6" y="194.60" font-size="7.0">6</text>
<text x="640.6" y="212.60" font-size="7.0">4</text>
<text x="640.6" y="230.90" font-size="7.0">2</text>
<text x="638.8" y="141.80" font-size="7.2">×10<tspan font-size="5.2" dy="-3">15</tspan></text>
<text x="519.00" y="249.60" text-anchor="end" font-size="7.6">0</text>
<text x="519.00" y="229.00" text-anchor="end" font-size="7.6">5</text>
<text x="519.00" y="208.40" text-anchor="end" font-size="7.6">10</text>
<text x="519.00" y="187.80" text-anchor="end" font-size="7.6">15</text>
<text x="519.00" y="167.20" text-anchor="end" font-size="7.6">20</text>
<text x="519.00" y="146.60" text-anchor="end" font-size="7.6">25</text>
<text x="521.30" y="256.30" text-anchor="middle" font-size="7.6">-100</text>
<text x="547.42" y="256.30" text-anchor="middle" font-size="7.6">-50</text>
<text x="573.55" y="256.30" text-anchor="middle" font-size="7.6">0</text>
<text x="599.67" y="256.30" text-anchor="middle" font-size="7.6">50</text>
<text x="625.80" y="256.30" text-anchor="middle" font-size="7.6">100</text>
<text x="573.55" y="265.40" text-anchor="middle" font-size="8.2">Time (fs)</text>
<text transform="translate(508.90,195.50) rotate(-90)" text-anchor="middle" font-size="8.1">Frequency (THz)</text>
<text x="549.60" y="156.00" font-size="11" fill="#fff"><tspan font-style="italic">L</tspan><tspan fill-opacity="0.45">=</tspan>~18.5mm</text>
<text x="488" y="145" font-size="16.5">(e)</text>
<text transform="translate(485.6,62.4) rotate(-90)" text-anchor="middle" font-size="9.8">Amplitude(arb. units)</text>
<text transform="translate(485.6,197) rotate(-90)" text-anchor="middle" font-size="9.8">Amplitude(arb. units)</text>
<clipPath id="rclip"><rect x="657.6" y="0" width="10" height="260"/></clipPath>
<g clip-path="url(#rclip)">
<text transform="translate(661.9,62.4) rotate(-90)" text-anchor="middle" font-size="9.8">Amplitude(arb. units)</text>
<text transform="translate(661.9,197) rotate(-90)" text-anchor="middle" font-size="9.8">Amplitude(arb. units)</text>
</g>
</g>
</svg></body></html>
